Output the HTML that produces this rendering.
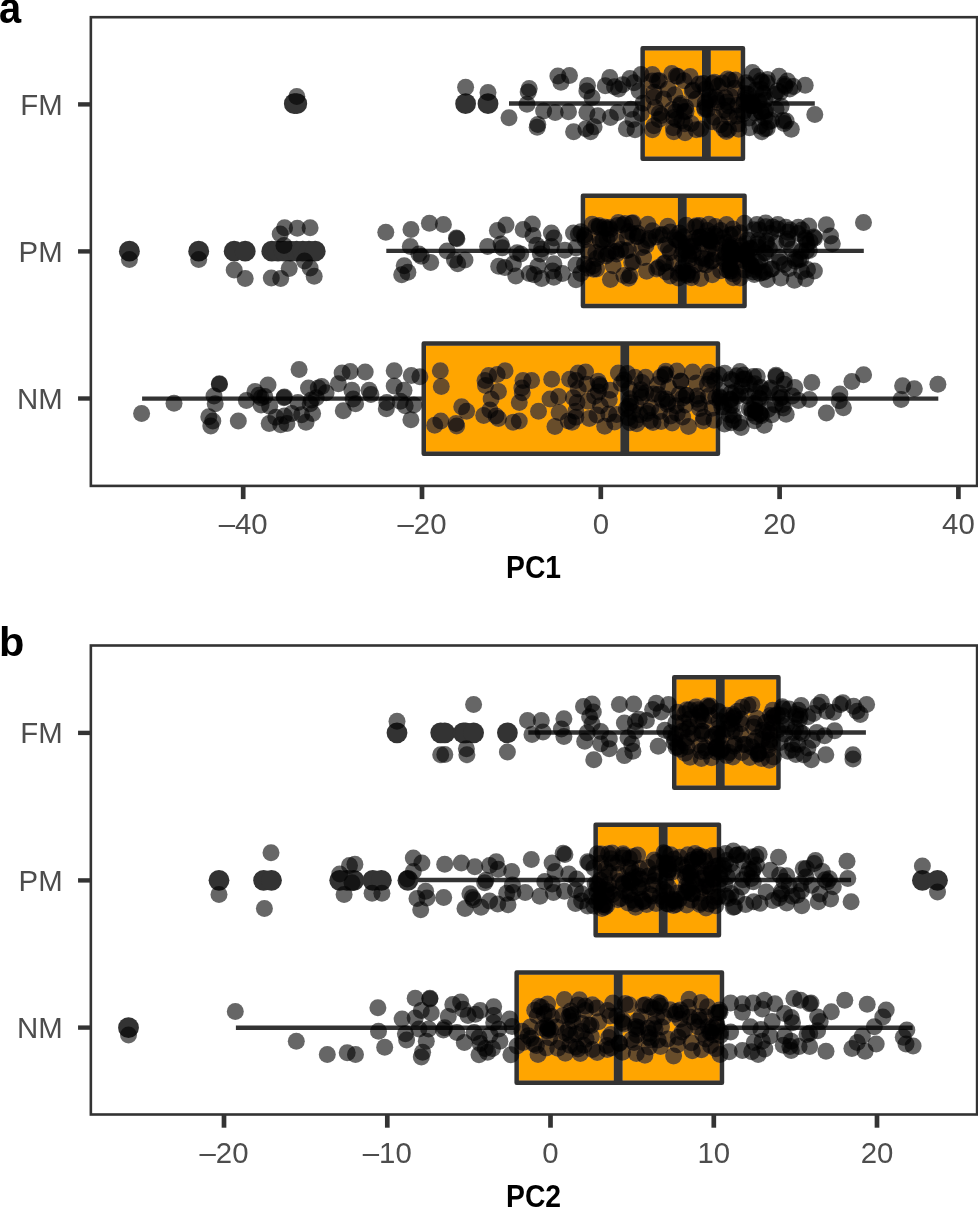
<!DOCTYPE html>
<html><head><meta charset="utf-8"><title>chart</title>
<style>html,body{margin:0;padding:0;background:#fff}svg{display:block;will-change:transform}</style></head>
<body>
<svg width="978" height="1207" viewBox="0 0 978 1207" font-family="Liberation Sans, sans-serif">
<rect width="978" height="1207" fill="#fff"/>
<defs><filter id="cm" x="0" y="0" width="100%" height="100%" filterUnits="objectBoundingBox" color-interpolation-filters="sRGB">
<feColorMatrix in="SourceGraphic" type="matrix" values="1 0 -1 0 0  1 0 -1 0 0  1 0 -1 0 0  0 0 0 0 1" result="s"/>
<feColorMatrix in="SourceGraphic" type="matrix" values="-1 0 0 0 1  -1 0 0 0 1  -1 0 0 0 1  0 0 0 0 1" result="d"/>
<feComposite in="s" in2="d" operator="arithmetic" k1="1" k2="0" k3="0" k4="0" result="sd"/>
<feColorMatrix in="sd" type="matrix" values="0.04 0 0 0 0  0 0.18 0 0 0  0 0 0.70 0 0  0 0 0 0 1" result="add"/>
<feComposite in="SourceGraphic" in2="add" operator="arithmetic" k1="0" k2="1" k3="1" k4="0"/>
</filter></defs>
<g filter="url(#cm)">
<rect x="90.85" y="17.2" width="886.25" height="468.7" fill="#fff"/>
<circle cx="294.3" cy="103.7" r="10.4" fill="#333333"/>
<circle cx="296.8" cy="103.7" r="10.4" fill="#333333"/>
<circle cx="465.6" cy="103.7" r="10.4" fill="#333333"/>
<circle cx="488.0" cy="103.7" r="10.4" fill="#333333"/>
<circle cx="129.4" cy="251.2" r="10.4" fill="#333333"/>
<circle cx="198.7" cy="251.2" r="10.4" fill="#333333"/>
<circle cx="234.2" cy="251.2" r="10.4" fill="#333333"/>
<circle cx="245.2" cy="251.2" r="10.4" fill="#333333"/>
<circle cx="271.8" cy="251.2" r="10.4" fill="#333333"/>
<circle cx="278.0" cy="251.2" r="10.4" fill="#333333"/>
<circle cx="284.2" cy="251.2" r="10.4" fill="#333333"/>
<circle cx="290.4" cy="251.2" r="10.4" fill="#333333"/>
<circle cx="296.6" cy="251.2" r="10.4" fill="#333333"/>
<circle cx="302.8" cy="251.2" r="10.4" fill="#333333"/>
<circle cx="309.0" cy="251.2" r="10.4" fill="#333333"/>
<circle cx="315.2" cy="251.2" r="10.4" fill="#333333"/>
<line x1="509.0" y1="103.5" x2="642.65" y2="103.5" stroke="#333333" stroke-width="4.4"/>
<line x1="742.95" y1="103.5" x2="814.8" y2="103.5" stroke="#333333" stroke-width="4.4"/>
<rect x="642.65" y="48.35" width="100.30000000000007" height="110.3" fill="#FFA500" stroke="#333333" stroke-width="4.5" stroke-linejoin="round"/>
<line x1="706.4" y1="48.35" x2="706.4" y2="158.65" stroke="#333333" stroke-width="8.8"/>
<line x1="386.3" y1="250.9" x2="582.95" y2="250.9" stroke="#333333" stroke-width="4.4"/>
<line x1="744.55" y1="250.9" x2="863.8" y2="250.9" stroke="#333333" stroke-width="4.4"/>
<rect x="582.95" y="195.75" width="161.5999999999999" height="110.3" fill="#FFA500" stroke="#333333" stroke-width="4.5" stroke-linejoin="round"/>
<line x1="682.3" y1="195.75" x2="682.3" y2="306.05" stroke="#333333" stroke-width="8.8"/>
<line x1="142.1" y1="398.6" x2="423.75" y2="398.6" stroke="#333333" stroke-width="4.4"/>
<line x1="717.95" y1="398.6" x2="938.3" y2="398.6" stroke="#333333" stroke-width="4.4"/>
<rect x="423.75" y="343.45000000000005" width="294.20000000000005" height="110.3" fill="#FFA500" stroke="#333333" stroke-width="4.5" stroke-linejoin="round"/>
<line x1="624.8" y1="343.45000000000005" x2="624.8" y2="453.75" stroke="#333333" stroke-width="8.8"/>
<g fill="#000" fill-opacity="0.6">
<circle cx="296.8" cy="96.5" r="8.5"/>
<circle cx="465.6" cy="87.3" r="8.5"/>
<circle cx="488.0" cy="92.4" r="8.5"/>
<circle cx="509.0" cy="117.7" r="8.5"/>
<circle cx="529.2" cy="88.4" r="8.5"/>
<circle cx="528.2" cy="91.9" r="8.5"/>
<circle cx="527.0" cy="104.2" r="8.5"/>
<circle cx="537.8" cy="124.6" r="8.5"/>
<circle cx="537.2" cy="127.3" r="8.5"/>
<circle cx="543.6" cy="110.9" r="8.5"/>
<circle cx="555.2" cy="112.4" r="8.5"/>
<circle cx="557.9" cy="76.0" r="8.5"/>
<circle cx="560.9" cy="82.3" r="8.5"/>
<circle cx="569.5" cy="75.6" r="8.5"/>
<circle cx="568.5" cy="111.8" r="8.5"/>
<circle cx="587.5" cy="85.4" r="8.5"/>
<circle cx="586.9" cy="90.9" r="8.5"/>
<circle cx="592.0" cy="97.4" r="8.5"/>
<circle cx="586.9" cy="112.4" r="8.5"/>
<circle cx="573.6" cy="131.8" r="8.5"/>
<circle cx="585.9" cy="128.7" r="8.5"/>
<circle cx="590.6" cy="131.8" r="8.5"/>
<circle cx="594.1" cy="126.7" r="8.5"/>
<circle cx="597.8" cy="115.8" r="8.5"/>
<circle cx="605.3" cy="85.8" r="8.5"/>
<circle cx="609.8" cy="77.6" r="8.5"/>
<circle cx="610.4" cy="117.5" r="8.5"/>
<circle cx="614.5" cy="86.8" r="8.5"/>
<circle cx="618.6" cy="88.9" r="8.5"/>
<circle cx="622.7" cy="84.8" r="8.5"/>
<circle cx="617.6" cy="112.4" r="8.5"/>
<circle cx="626.4" cy="128.7" r="8.5"/>
<circle cx="629.9" cy="78.6" r="8.5"/>
<circle cx="633.9" cy="82.7" r="8.5"/>
<circle cx="630.9" cy="109.3" r="8.5"/>
<circle cx="635.0" cy="129.8" r="8.5"/>
<circle cx="632.9" cy="119.5" r="8.5"/>
<circle cx="641.1" cy="74.5" r="8.5"/>
<circle cx="639.1" cy="90.9" r="8.5"/>
<circle cx="643.1" cy="103.2" r="8.5"/>
<circle cx="641.1" cy="113.4" r="8.5"/>
<circle cx="652.4" cy="74.5" r="8.5"/>
<circle cx="657.5" cy="80.7" r="8.5"/>
<circle cx="663.6" cy="99.1" r="8.5"/>
<circle cx="652.4" cy="129.8" r="8.5"/>
<circle cx="661.6" cy="115.4" r="8.5"/>
<circle cx="671.8" cy="73.5" r="8.5"/>
<circle cx="677.9" cy="76.6" r="8.5"/>
<circle cx="684.0" cy="80.7" r="8.5"/>
<circle cx="690.2" cy="76.6" r="8.5"/>
<circle cx="673.8" cy="131.8" r="8.5"/>
<circle cx="685.1" cy="132.8" r="8.5"/>
<circle cx="680.0" cy="105.2" r="8.5"/>
<circle cx="686.1" cy="111.3" r="8.5"/>
<circle cx="692.2" cy="90.9" r="8.5"/>
<circle cx="696.3" cy="99.1" r="8.5"/>
<circle cx="673.8" cy="117.5" r="8.5"/>
<circle cx="691.2" cy="123.6" r="8.5"/>
<circle cx="696.3" cy="129.8" r="8.5"/>
<circle cx="779.1" cy="76.2" r="8.5"/>
<circle cx="793.4" cy="86.4" r="8.5"/>
<circle cx="805.2" cy="85.2" r="8.5"/>
<circle cx="777.4" cy="90.9" r="8.5"/>
<circle cx="814.8" cy="114.4" r="8.5"/>
<circle cx="791.3" cy="129.3" r="8.5"/>
<circle cx="784.2" cy="123.6" r="8.5"/>
<circle cx="783.1" cy="120.6" r="8.5"/>
<circle cx="761.7" cy="131.8" r="8.5"/>
<circle cx="749.4" cy="127.7" r="8.5"/>
<circle cx="776.0" cy="109.3" r="8.5"/>
<circle cx="781.1" cy="106.2" r="8.5"/>
<circle cx="764.7" cy="117.5" r="8.5"/>
<circle cx="756.6" cy="76.6" r="8.5"/>
<circle cx="752.5" cy="72.5" r="8.5"/>
<circle cx="760.7" cy="80.7" r="8.5"/>
<circle cx="766.8" cy="82.7" r="8.5"/>
<circle cx="129.4" cy="259.4" r="8.5"/>
<circle cx="198.7" cy="259.4" r="8.5"/>
<circle cx="234.2" cy="269.9" r="8.5"/>
<circle cx="245.2" cy="278.6" r="8.5"/>
<circle cx="284.6" cy="227.7" r="8.5"/>
<circle cx="297.3" cy="228.2" r="8.5"/>
<circle cx="310.1" cy="227.7" r="8.5"/>
<circle cx="280.2" cy="234.1" r="8.5"/>
<circle cx="284.0" cy="245.6" r="8.5"/>
<circle cx="289.2" cy="268.4" r="8.5"/>
<circle cx="271.3" cy="278.1" r="8.5"/>
<circle cx="280.7" cy="278.6" r="8.5"/>
<circle cx="304.5" cy="261.0" r="8.5"/>
<circle cx="310.1" cy="267.9" r="8.5"/>
<circle cx="314.2" cy="276.3" r="8.5"/>
<circle cx="385.8" cy="232.3" r="8.5"/>
<circle cx="411.0" cy="229.4" r="8.5"/>
<circle cx="429.4" cy="223.2" r="8.5"/>
<circle cx="443.4" cy="224.4" r="8.5"/>
<circle cx="456.4" cy="237.9" r="8.5"/>
<circle cx="456.9" cy="238.7" r="8.5"/>
<circle cx="410.3" cy="246.5" r="8.5"/>
<circle cx="418.9" cy="253.9" r="8.5"/>
<circle cx="421.3" cy="256.3" r="8.5"/>
<circle cx="430.7" cy="262.5" r="8.5"/>
<circle cx="404.2" cy="265.7" r="8.5"/>
<circle cx="407.9" cy="272.3" r="8.5"/>
<circle cx="401.7" cy="274.8" r="8.5"/>
<circle cx="447.1" cy="251.0" r="8.5"/>
<circle cx="454.5" cy="260.0" r="8.5"/>
<circle cx="457.7" cy="263.7" r="8.5"/>
<circle cx="465.0" cy="260.0" r="8.5"/>
<circle cx="487.6" cy="246.5" r="8.5"/>
<circle cx="497.4" cy="230.6" r="8.5"/>
<circle cx="506.0" cy="224.9" r="8.5"/>
<circle cx="501.1" cy="244.1" r="8.5"/>
<circle cx="502.3" cy="247.8" r="8.5"/>
<circle cx="523.2" cy="229.4" r="8.5"/>
<circle cx="532.3" cy="224.0" r="8.5"/>
<circle cx="533.0" cy="235.5" r="8.5"/>
<circle cx="517.1" cy="252.7" r="8.5"/>
<circle cx="520.7" cy="253.9" r="8.5"/>
<circle cx="498.7" cy="266.2" r="8.5"/>
<circle cx="504.8" cy="267.4" r="8.5"/>
<circle cx="513.4" cy="263.7" r="8.5"/>
<circle cx="515.8" cy="276.0" r="8.5"/>
<circle cx="529.3" cy="273.5" r="8.5"/>
<circle cx="534.2" cy="274.8" r="8.5"/>
<circle cx="541.6" cy="278.4" r="8.5"/>
<circle cx="537.9" cy="266.2" r="8.5"/>
<circle cx="536.7" cy="245.3" r="8.5"/>
<circle cx="541.6" cy="249.0" r="8.5"/>
<circle cx="540.4" cy="253.9" r="8.5"/>
<circle cx="551.4" cy="233.0" r="8.5"/>
<circle cx="553.9" cy="237.9" r="8.5"/>
<circle cx="551.4" cy="246.5" r="8.5"/>
<circle cx="564.9" cy="250.2" r="8.5"/>
<circle cx="553.9" cy="263.7" r="8.5"/>
<circle cx="552.6" cy="271.1" r="8.5"/>
<circle cx="553.9" cy="277.2" r="8.5"/>
<circle cx="562.5" cy="273.5" r="8.5"/>
<circle cx="573.5" cy="233.0" r="8.5"/>
<circle cx="578.4" cy="234.3" r="8.5"/>
<circle cx="576.0" cy="247.8" r="8.5"/>
<circle cx="576.0" cy="264.9" r="8.5"/>
<circle cx="576.0" cy="279.7" r="8.5"/>
<circle cx="580.9" cy="231.8" r="8.5"/>
<circle cx="580.9" cy="273.5" r="8.5"/>
<circle cx="863.5" cy="222.5" r="8.5"/>
<circle cx="826.3" cy="224.7" r="8.5"/>
<circle cx="830.5" cy="236.1" r="8.5"/>
<circle cx="832.3" cy="243.7" r="8.5"/>
<circle cx="801.8" cy="230.1" r="8.5"/>
<circle cx="810.1" cy="241.6" r="8.5"/>
<circle cx="798.7" cy="259.4" r="8.5"/>
<circle cx="801.6" cy="271.6" r="8.5"/>
<circle cx="805.8" cy="278.8" r="8.5"/>
<circle cx="794.4" cy="280.2" r="8.5"/>
<circle cx="780.8" cy="278.1" r="8.5"/>
<circle cx="767.2" cy="279.5" r="8.5"/>
<circle cx="765.8" cy="222.9" r="8.5"/>
<circle cx="777.9" cy="224.4" r="8.5"/>
<circle cx="790.1" cy="230.1" r="8.5"/>
<circle cx="754.3" cy="274.5" r="8.5"/>
<circle cx="141.6" cy="413.6" r="8.5"/>
<circle cx="174.0" cy="403.3" r="8.5"/>
<circle cx="219.4" cy="383.7" r="8.5"/>
<circle cx="219.4" cy="384.2" r="8.5"/>
<circle cx="214.0" cy="396.0" r="8.5"/>
<circle cx="215.2" cy="403.8" r="8.5"/>
<circle cx="208.8" cy="416.8" r="8.5"/>
<circle cx="212.8" cy="421.0" r="8.5"/>
<circle cx="210.8" cy="425.9" r="8.5"/>
<circle cx="238.3" cy="421.0" r="8.5"/>
<circle cx="246.4" cy="400.6" r="8.5"/>
<circle cx="255.0" cy="391.5" r="8.5"/>
<circle cx="258.7" cy="395.2" r="8.5"/>
<circle cx="261.1" cy="397.7" r="8.5"/>
<circle cx="268.0" cy="384.9" r="8.5"/>
<circle cx="264.8" cy="396.4" r="8.5"/>
<circle cx="261.1" cy="405.0" r="8.5"/>
<circle cx="269.7" cy="406.3" r="8.5"/>
<circle cx="284.4" cy="396.9" r="8.5"/>
<circle cx="283.9" cy="397.7" r="8.5"/>
<circle cx="269.2" cy="423.4" r="8.5"/>
<circle cx="275.8" cy="417.3" r="8.5"/>
<circle cx="280.7" cy="424.7" r="8.5"/>
<circle cx="286.9" cy="423.4" r="8.5"/>
<circle cx="284.4" cy="416.1" r="8.5"/>
<circle cx="291.8" cy="413.6" r="8.5"/>
<circle cx="299.1" cy="369.4" r="8.5"/>
<circle cx="297.9" cy="402.6" r="8.5"/>
<circle cx="301.6" cy="414.8" r="8.5"/>
<circle cx="306.0" cy="422.2" r="8.5"/>
<circle cx="308.5" cy="387.9" r="8.5"/>
<circle cx="311.4" cy="400.1" r="8.5"/>
<circle cx="310.2" cy="403.8" r="8.5"/>
<circle cx="312.6" cy="413.6" r="8.5"/>
<circle cx="316.3" cy="397.7" r="8.5"/>
<circle cx="318.3" cy="387.9" r="8.5"/>
<circle cx="321.7" cy="386.6" r="8.5"/>
<circle cx="326.1" cy="392.8" r="8.5"/>
<circle cx="338.4" cy="383.7" r="8.5"/>
<circle cx="342.1" cy="373.1" r="8.5"/>
<circle cx="350.2" cy="371.4" r="8.5"/>
<circle cx="343.3" cy="410.7" r="8.5"/>
<circle cx="351.9" cy="390.3" r="8.5"/>
<circle cx="353.1" cy="398.9" r="8.5"/>
<circle cx="355.6" cy="403.8" r="8.5"/>
<circle cx="365.2" cy="371.9" r="8.5"/>
<circle cx="369.1" cy="390.3" r="8.5"/>
<circle cx="370.9" cy="394.5" r="8.5"/>
<circle cx="394.2" cy="370.7" r="8.5"/>
<circle cx="394.2" cy="386.1" r="8.5"/>
<circle cx="404.0" cy="390.3" r="8.5"/>
<circle cx="411.3" cy="375.6" r="8.5"/>
<circle cx="419.9" cy="376.8" r="8.5"/>
<circle cx="386.8" cy="402.6" r="8.5"/>
<circle cx="386.3" cy="408.7" r="8.5"/>
<circle cx="400.3" cy="401.3" r="8.5"/>
<circle cx="405.2" cy="405.8" r="8.5"/>
<circle cx="413.8" cy="405.0" r="8.5"/>
<circle cx="410.9" cy="419.8" r="8.5"/>
<circle cx="440.3" cy="370.7" r="8.5"/>
<circle cx="441.3" cy="386.6" r="8.5"/>
<circle cx="434.7" cy="425.2" r="8.5"/>
<circle cx="440.8" cy="421.0" r="8.5"/>
<circle cx="461.7" cy="406.7" r="8.5"/>
<circle cx="466.6" cy="411.2" r="8.5"/>
<circle cx="456.0" cy="423.4" r="8.5"/>
<circle cx="456.7" cy="425.9" r="8.5"/>
<circle cx="488.7" cy="375.6" r="8.5"/>
<circle cx="497.2" cy="374.4" r="8.5"/>
<circle cx="505.1" cy="370.7" r="8.5"/>
<circle cx="485.0" cy="380.5" r="8.5"/>
<circle cx="485.5" cy="385.4" r="8.5"/>
<circle cx="498.5" cy="391.5" r="8.5"/>
<circle cx="491.1" cy="398.9" r="8.5"/>
<circle cx="489.9" cy="409.9" r="8.5"/>
<circle cx="483.7" cy="415.6" r="8.5"/>
<circle cx="496.0" cy="416.1" r="8.5"/>
<circle cx="498.5" cy="418.5" r="8.5"/>
<circle cx="513.2" cy="422.2" r="8.5"/>
<circle cx="519.3" cy="421.0" r="8.5"/>
<circle cx="523.0" cy="380.5" r="8.5"/>
<circle cx="531.6" cy="380.5" r="8.5"/>
<circle cx="521.8" cy="387.9" r="8.5"/>
<circle cx="522.3" cy="392.8" r="8.5"/>
<circle cx="519.3" cy="402.6" r="8.5"/>
<circle cx="538.5" cy="411.2" r="8.5"/>
<circle cx="551.7" cy="379.3" r="8.5"/>
<circle cx="550.0" cy="398.9" r="8.5"/>
<circle cx="558.6" cy="396.4" r="8.5"/>
<circle cx="559.1" cy="412.4" r="8.5"/>
<circle cx="554.9" cy="426.4" r="8.5"/>
<circle cx="569.6" cy="379.3" r="8.5"/>
<circle cx="578.2" cy="373.1" r="8.5"/>
<circle cx="575.8" cy="380.5" r="8.5"/>
<circle cx="573.3" cy="397.7" r="8.5"/>
<circle cx="578.2" cy="389.1" r="8.5"/>
<circle cx="577.0" cy="402.6" r="8.5"/>
<circle cx="575.8" cy="411.2" r="8.5"/>
<circle cx="568.4" cy="421.0" r="8.5"/>
<circle cx="572.1" cy="422.2" r="8.5"/>
<circle cx="575.8" cy="417.3" r="8.5"/>
<circle cx="585.6" cy="371.9" r="8.5"/>
<circle cx="586.8" cy="384.2" r="8.5"/>
<circle cx="588.0" cy="401.3" r="8.5"/>
<circle cx="589.3" cy="418.5" r="8.5"/>
<circle cx="776.0" cy="375.3" r="8.5"/>
<circle cx="776.0" cy="376.5" r="8.5"/>
<circle cx="753.4" cy="376.5" r="8.5"/>
<circle cx="760.7" cy="387.5" r="8.5"/>
<circle cx="764.3" cy="425.2" r="8.5"/>
<circle cx="768.0" cy="409.4" r="8.5"/>
<circle cx="780.2" cy="398.4" r="8.5"/>
<circle cx="786.2" cy="414.2" r="8.5"/>
<circle cx="794.8" cy="387.5" r="8.5"/>
<circle cx="792.3" cy="396.0" r="8.5"/>
<circle cx="798.4" cy="400.4" r="8.5"/>
<circle cx="811.8" cy="382.6" r="8.5"/>
<circle cx="809.4" cy="399.6" r="8.5"/>
<circle cx="826.4" cy="413.0" r="8.5"/>
<circle cx="839.8" cy="394.0" r="8.5"/>
<circle cx="839.3" cy="400.8" r="8.5"/>
<circle cx="843.4" cy="407.7" r="8.5"/>
<circle cx="851.9" cy="381.4" r="8.5"/>
<circle cx="863.6" cy="374.8" r="8.5"/>
<circle cx="902.6" cy="385.8" r="8.5"/>
<circle cx="901.1" cy="399.6" r="8.5"/>
<circle cx="914.3" cy="388.7" r="8.5"/>
<circle cx="937.9" cy="384.3" r="8.5"/>
<circle cx="740.0" cy="371.6" r="8.5"/>
<circle cx="744.9" cy="378.9" r="8.5"/>
<circle cx="754.6" cy="383.8" r="8.5"/>
<circle cx="747.3" cy="396.0" r="8.5"/>
<circle cx="754.6" cy="403.3" r="8.5"/>
<circle cx="752.2" cy="413.0" r="8.5"/>
<circle cx="741.2" cy="427.6" r="8.5"/>
<circle cx="763.1" cy="393.5" r="8.5"/>
<circle cx="681.8" cy="120.9" r="8.5"/>
<circle cx="684.8" cy="123.8" r="8.5"/>
<circle cx="654.0" cy="125.7" r="8.5"/>
<circle cx="684.3" cy="111.7" r="8.5"/>
<circle cx="699.1" cy="84.1" r="8.5"/>
<circle cx="676.4" cy="76.0" r="8.5"/>
<circle cx="693.1" cy="90.1" r="8.5"/>
<circle cx="653.7" cy="97.3" r="8.5"/>
<circle cx="652.2" cy="81.1" r="8.5"/>
<circle cx="675.7" cy="111.7" r="8.5"/>
<circle cx="659.3" cy="113.3" r="8.5"/>
<circle cx="655.2" cy="107.7" r="8.5"/>
<circle cx="659.4" cy="80.7" r="8.5"/>
<circle cx="685.6" cy="107.3" r="8.5"/>
<circle cx="681.0" cy="103.4" r="8.5"/>
<circle cx="676.6" cy="119.4" r="8.5"/>
<circle cx="673.3" cy="127.7" r="8.5"/>
<circle cx="668.1" cy="89.3" r="8.5"/>
<circle cx="659.0" cy="119.6" r="8.5"/>
<circle cx="654.1" cy="92.2" r="8.5"/>
<circle cx="674.8" cy="94.7" r="8.5"/>
<circle cx="672.4" cy="109.8" r="8.5"/>
<circle cx="712.0" cy="121.8" r="8.5"/>
<circle cx="714.3" cy="117.2" r="8.5"/>
<circle cx="700.7" cy="129.0" r="8.5"/>
<circle cx="737.2" cy="115.9" r="8.5"/>
<circle cx="730.2" cy="80.2" r="8.5"/>
<circle cx="730.6" cy="96.6" r="8.5"/>
<circle cx="726.4" cy="131.4" r="8.5"/>
<circle cx="737.7" cy="104.9" r="8.5"/>
<circle cx="705.6" cy="89.0" r="8.5"/>
<circle cx="703.2" cy="83.5" r="8.5"/>
<circle cx="715.7" cy="97.0" r="8.5"/>
<circle cx="716.8" cy="99.8" r="8.5"/>
<circle cx="738.3" cy="123.9" r="8.5"/>
<circle cx="735.3" cy="80.0" r="8.5"/>
<circle cx="728.7" cy="106.0" r="8.5"/>
<circle cx="722.3" cy="82.9" r="8.5"/>
<circle cx="726.8" cy="111.9" r="8.5"/>
<circle cx="734.7" cy="88.2" r="8.5"/>
<circle cx="707.4" cy="109.4" r="8.5"/>
<circle cx="709.3" cy="100.0" r="8.5"/>
<circle cx="712.7" cy="83.4" r="8.5"/>
<circle cx="724.1" cy="109.9" r="8.5"/>
<circle cx="714.3" cy="82.3" r="8.5"/>
<circle cx="738.7" cy="129.3" r="8.5"/>
<circle cx="729.5" cy="117.3" r="8.5"/>
<circle cx="720.5" cy="124.7" r="8.5"/>
<circle cx="742.8" cy="113.9" r="8.5"/>
<circle cx="725.2" cy="97.8" r="8.5"/>
<circle cx="717.7" cy="102.5" r="8.5"/>
<circle cx="718.0" cy="86.0" r="8.5"/>
<circle cx="744.3" cy="100.2" r="8.5"/>
<circle cx="704.9" cy="109.3" r="8.5"/>
<circle cx="704.6" cy="107.4" r="8.5"/>
<circle cx="724.1" cy="129.2" r="8.5"/>
<circle cx="727.6" cy="79.1" r="8.5"/>
<circle cx="709.4" cy="96.5" r="8.5"/>
<circle cx="728.5" cy="129.6" r="8.5"/>
<circle cx="727.1" cy="102.1" r="8.5"/>
<circle cx="705.2" cy="102.9" r="8.5"/>
<circle cx="744.0" cy="102.5" r="8.5"/>
<circle cx="761.4" cy="112.2" r="8.5"/>
<circle cx="746.0" cy="82.8" r="8.5"/>
<circle cx="759.0" cy="101.4" r="8.5"/>
<circle cx="762.2" cy="82.4" r="8.5"/>
<circle cx="743.8" cy="111.2" r="8.5"/>
<circle cx="764.0" cy="93.8" r="8.5"/>
<circle cx="754.3" cy="105.6" r="8.5"/>
<circle cx="755.8" cy="90.1" r="8.5"/>
<circle cx="765.0" cy="100.1" r="8.5"/>
<circle cx="749.6" cy="101.4" r="8.5"/>
<circle cx="747.9" cy="85.2" r="8.5"/>
<circle cx="753.0" cy="105.5" r="8.5"/>
<circle cx="748.0" cy="94.3" r="8.5"/>
<circle cx="761.3" cy="112.2" r="8.5"/>
<circle cx="762.8" cy="93.6" r="8.5"/>
<circle cx="747.8" cy="98.4" r="8.5"/>
<circle cx="751.6" cy="105.7" r="8.5"/>
<circle cx="761.1" cy="89.2" r="8.5"/>
<circle cx="767.4" cy="79.5" r="8.5"/>
<circle cx="745.6" cy="93.5" r="8.5"/>
<circle cx="765.7" cy="110.7" r="8.5"/>
<circle cx="751.7" cy="102.8" r="8.5"/>
<circle cx="767.2" cy="128.3" r="8.5"/>
<circle cx="759.9" cy="126.1" r="8.5"/>
<circle cx="749.0" cy="118.1" r="8.5"/>
<circle cx="764.7" cy="110.9" r="8.5"/>
<circle cx="765.0" cy="128.8" r="8.5"/>
<circle cx="754.9" cy="112.8" r="8.5"/>
<circle cx="768.7" cy="121.9" r="8.5"/>
<circle cx="749.3" cy="105.2" r="8.5"/>
<circle cx="786.1" cy="121.1" r="8.5"/>
<circle cx="774.7" cy="94.6" r="8.5"/>
<circle cx="771.6" cy="120.4" r="8.5"/>
<circle cx="780.2" cy="92.4" r="8.5"/>
<circle cx="784.5" cy="84.5" r="8.5"/>
<circle cx="785.0" cy="86.3" r="8.5"/>
<circle cx="789.7" cy="89.0" r="8.5"/>
<circle cx="787.5" cy="80.9" r="8.5"/>
<circle cx="608.0" cy="254.1" r="8.5"/>
<circle cx="588.6" cy="251.7" r="8.5"/>
<circle cx="679.4" cy="232.9" r="8.5"/>
<circle cx="609.9" cy="229.5" r="8.5"/>
<circle cx="676.6" cy="239.7" r="8.5"/>
<circle cx="678.6" cy="273.3" r="8.5"/>
<circle cx="599.9" cy="239.3" r="8.5"/>
<circle cx="670.4" cy="276.1" r="8.5"/>
<circle cx="658.6" cy="267.4" r="8.5"/>
<circle cx="673.9" cy="263.1" r="8.5"/>
<circle cx="670.4" cy="232.1" r="8.5"/>
<circle cx="584.5" cy="235.3" r="8.5"/>
<circle cx="609.9" cy="234.7" r="8.5"/>
<circle cx="596.6" cy="268.9" r="8.5"/>
<circle cx="601.4" cy="254.2" r="8.5"/>
<circle cx="647.9" cy="224.3" r="8.5"/>
<circle cx="623.9" cy="275.6" r="8.5"/>
<circle cx="628.6" cy="278.2" r="8.5"/>
<circle cx="637.6" cy="236.4" r="8.5"/>
<circle cx="604.5" cy="227.0" r="8.5"/>
<circle cx="610.4" cy="279.4" r="8.5"/>
<circle cx="592.2" cy="224.3" r="8.5"/>
<circle cx="631.7" cy="262.6" r="8.5"/>
<circle cx="641.7" cy="247.5" r="8.5"/>
<circle cx="652.5" cy="230.7" r="8.5"/>
<circle cx="616.2" cy="251.6" r="8.5"/>
<circle cx="587.8" cy="268.3" r="8.5"/>
<circle cx="663.6" cy="263.8" r="8.5"/>
<circle cx="643.6" cy="257.4" r="8.5"/>
<circle cx="681.8" cy="254.3" r="8.5"/>
<circle cx="659.7" cy="235.1" r="8.5"/>
<circle cx="662.9" cy="234.4" r="8.5"/>
<circle cx="646.6" cy="271.2" r="8.5"/>
<circle cx="628.4" cy="250.1" r="8.5"/>
<circle cx="593.0" cy="266.0" r="8.5"/>
<circle cx="596.8" cy="258.4" r="8.5"/>
<circle cx="648.1" cy="240.4" r="8.5"/>
<circle cx="656.7" cy="269.1" r="8.5"/>
<circle cx="616.6" cy="241.7" r="8.5"/>
<circle cx="631.7" cy="223.3" r="8.5"/>
<circle cx="670.3" cy="252.5" r="8.5"/>
<circle cx="624.8" cy="223.5" r="8.5"/>
<circle cx="667.8" cy="226.3" r="8.5"/>
<circle cx="668.4" cy="248.4" r="8.5"/>
<circle cx="616.6" cy="254.0" r="8.5"/>
<circle cx="674.7" cy="237.8" r="8.5"/>
<circle cx="595.8" cy="252.5" r="8.5"/>
<circle cx="606.6" cy="228.7" r="8.5"/>
<circle cx="599.0" cy="225.4" r="8.5"/>
<circle cx="603.0" cy="240.3" r="8.5"/>
<circle cx="613.2" cy="265.8" r="8.5"/>
<circle cx="611.7" cy="251.0" r="8.5"/>
<circle cx="600.6" cy="242.3" r="8.5"/>
<circle cx="584.8" cy="236.8" r="8.5"/>
<circle cx="584.5" cy="264.3" r="8.5"/>
<circle cx="637.6" cy="233.3" r="8.5"/>
<circle cx="630.0" cy="275.8" r="8.5"/>
<circle cx="593.5" cy="269.2" r="8.5"/>
<circle cx="625.8" cy="250.7" r="8.5"/>
<circle cx="665.6" cy="244.9" r="8.5"/>
<circle cx="633.2" cy="261.7" r="8.5"/>
<circle cx="680.3" cy="242.0" r="8.5"/>
<circle cx="665.4" cy="262.8" r="8.5"/>
<circle cx="646.0" cy="245.6" r="8.5"/>
<circle cx="617.4" cy="225.6" r="8.5"/>
<circle cx="595.9" cy="226.5" r="8.5"/>
<circle cx="656.3" cy="237.1" r="8.5"/>
<circle cx="599.2" cy="227.3" r="8.5"/>
<circle cx="666.3" cy="272.1" r="8.5"/>
<circle cx="649.4" cy="238.6" r="8.5"/>
<circle cx="607.0" cy="239.2" r="8.5"/>
<circle cx="628.5" cy="231.5" r="8.5"/>
<circle cx="627.1" cy="237.5" r="8.5"/>
<circle cx="678.2" cy="277.9" r="8.5"/>
<circle cx="637.2" cy="236.4" r="8.5"/>
<circle cx="678.6" cy="240.1" r="8.5"/>
<circle cx="618.3" cy="222.6" r="8.5"/>
<circle cx="620.8" cy="249.6" r="8.5"/>
<circle cx="632.8" cy="234.0" r="8.5"/>
<circle cx="633.0" cy="222.8" r="8.5"/>
<circle cx="609.2" cy="227.6" r="8.5"/>
<circle cx="622.6" cy="224.9" r="8.5"/>
<circle cx="585.2" cy="239.8" r="8.5"/>
<circle cx="606.0" cy="255.9" r="8.5"/>
<circle cx="740.1" cy="232.7" r="8.5"/>
<circle cx="708.4" cy="250.0" r="8.5"/>
<circle cx="691.8" cy="275.0" r="8.5"/>
<circle cx="688.7" cy="255.5" r="8.5"/>
<circle cx="707.3" cy="230.5" r="8.5"/>
<circle cx="702.1" cy="258.2" r="8.5"/>
<circle cx="702.1" cy="238.2" r="8.5"/>
<circle cx="740.1" cy="278.0" r="8.5"/>
<circle cx="700.7" cy="278.6" r="8.5"/>
<circle cx="693.6" cy="241.9" r="8.5"/>
<circle cx="714.7" cy="233.9" r="8.5"/>
<circle cx="696.4" cy="225.7" r="8.5"/>
<circle cx="732.9" cy="229.1" r="8.5"/>
<circle cx="687.6" cy="271.3" r="8.5"/>
<circle cx="695.3" cy="265.1" r="8.5"/>
<circle cx="726.8" cy="242.4" r="8.5"/>
<circle cx="684.0" cy="236.7" r="8.5"/>
<circle cx="715.4" cy="253.7" r="8.5"/>
<circle cx="731.2" cy="248.8" r="8.5"/>
<circle cx="699.9" cy="237.2" r="8.5"/>
<circle cx="720.8" cy="270.8" r="8.5"/>
<circle cx="686.3" cy="225.3" r="8.5"/>
<circle cx="727.7" cy="265.3" r="8.5"/>
<circle cx="727.0" cy="269.9" r="8.5"/>
<circle cx="739.5" cy="259.7" r="8.5"/>
<circle cx="744.4" cy="223.2" r="8.5"/>
<circle cx="682.8" cy="267.6" r="8.5"/>
<circle cx="702.4" cy="263.9" r="8.5"/>
<circle cx="723.4" cy="238.0" r="8.5"/>
<circle cx="711.5" cy="261.6" r="8.5"/>
<circle cx="712.3" cy="274.7" r="8.5"/>
<circle cx="725.9" cy="254.7" r="8.5"/>
<circle cx="683.4" cy="250.5" r="8.5"/>
<circle cx="733.1" cy="273.9" r="8.5"/>
<circle cx="715.5" cy="226.5" r="8.5"/>
<circle cx="739.4" cy="261.6" r="8.5"/>
<circle cx="730.0" cy="235.1" r="8.5"/>
<circle cx="712.0" cy="245.3" r="8.5"/>
<circle cx="726.5" cy="224.4" r="8.5"/>
<circle cx="736.1" cy="248.5" r="8.5"/>
<circle cx="693.3" cy="251.6" r="8.5"/>
<circle cx="730.5" cy="259.3" r="8.5"/>
<circle cx="686.8" cy="275.2" r="8.5"/>
<circle cx="729.6" cy="271.2" r="8.5"/>
<circle cx="699.7" cy="225.4" r="8.5"/>
<circle cx="723.7" cy="258.7" r="8.5"/>
<circle cx="691.4" cy="277.8" r="8.5"/>
<circle cx="709.5" cy="240.5" r="8.5"/>
<circle cx="730.7" cy="267.3" r="8.5"/>
<circle cx="708.9" cy="224.2" r="8.5"/>
<circle cx="730.0" cy="245.3" r="8.5"/>
<circle cx="737.2" cy="254.1" r="8.5"/>
<circle cx="694.8" cy="227.1" r="8.5"/>
<circle cx="740.8" cy="245.9" r="8.5"/>
<circle cx="720.7" cy="230.4" r="8.5"/>
<circle cx="736.8" cy="250.2" r="8.5"/>
<circle cx="739.5" cy="253.9" r="8.5"/>
<circle cx="692.8" cy="246.1" r="8.5"/>
<circle cx="699.8" cy="237.1" r="8.5"/>
<circle cx="728.5" cy="259.7" r="8.5"/>
<circle cx="707.6" cy="236.1" r="8.5"/>
<circle cx="712.4" cy="260.6" r="8.5"/>
<circle cx="689.5" cy="259.2" r="8.5"/>
<circle cx="686.7" cy="251.0" r="8.5"/>
<circle cx="733.1" cy="253.9" r="8.5"/>
<circle cx="710.5" cy="241.5" r="8.5"/>
<circle cx="729.8" cy="246.9" r="8.5"/>
<circle cx="716.5" cy="236.4" r="8.5"/>
<circle cx="693.0" cy="254.2" r="8.5"/>
<circle cx="702.1" cy="243.5" r="8.5"/>
<circle cx="733.0" cy="234.0" r="8.5"/>
<circle cx="683.3" cy="272.1" r="8.5"/>
<circle cx="706.1" cy="265.0" r="8.5"/>
<circle cx="695.2" cy="237.9" r="8.5"/>
<circle cx="729.4" cy="250.9" r="8.5"/>
<circle cx="718.2" cy="243.0" r="8.5"/>
<circle cx="725.3" cy="252.7" r="8.5"/>
<circle cx="731.8" cy="270.9" r="8.5"/>
<circle cx="687.8" cy="273.6" r="8.5"/>
<circle cx="706.2" cy="259.3" r="8.5"/>
<circle cx="709.2" cy="240.3" r="8.5"/>
<circle cx="733.3" cy="277.7" r="8.5"/>
<circle cx="690.0" cy="246.7" r="8.5"/>
<circle cx="730.1" cy="268.3" r="8.5"/>
<circle cx="755.9" cy="267.0" r="8.5"/>
<circle cx="745.0" cy="270.1" r="8.5"/>
<circle cx="770.7" cy="269.3" r="8.5"/>
<circle cx="772.2" cy="268.7" r="8.5"/>
<circle cx="751.3" cy="264.8" r="8.5"/>
<circle cx="769.4" cy="248.9" r="8.5"/>
<circle cx="766.0" cy="226.7" r="8.5"/>
<circle cx="764.4" cy="252.7" r="8.5"/>
<circle cx="747.6" cy="240.1" r="8.5"/>
<circle cx="745.0" cy="255.8" r="8.5"/>
<circle cx="765.0" cy="271.5" r="8.5"/>
<circle cx="758.2" cy="240.6" r="8.5"/>
<circle cx="757.4" cy="246.7" r="8.5"/>
<circle cx="770.5" cy="233.3" r="8.5"/>
<circle cx="759.1" cy="229.8" r="8.5"/>
<circle cx="745.6" cy="243.7" r="8.5"/>
<circle cx="753.8" cy="229.8" r="8.5"/>
<circle cx="765.8" cy="253.1" r="8.5"/>
<circle cx="757.7" cy="244.0" r="8.5"/>
<circle cx="759.8" cy="261.6" r="8.5"/>
<circle cx="766.5" cy="243.6" r="8.5"/>
<circle cx="756.9" cy="224.4" r="8.5"/>
<circle cx="753.8" cy="269.6" r="8.5"/>
<circle cx="747.0" cy="250.8" r="8.5"/>
<circle cx="751.0" cy="265.4" r="8.5"/>
<circle cx="750.8" cy="249.1" r="8.5"/>
<circle cx="753.0" cy="272.0" r="8.5"/>
<circle cx="748.3" cy="257.7" r="8.5"/>
<circle cx="763.3" cy="272.4" r="8.5"/>
<circle cx="759.6" cy="273.2" r="8.5"/>
<circle cx="746.7" cy="256.1" r="8.5"/>
<circle cx="772.7" cy="226.9" r="8.5"/>
<circle cx="745.7" cy="256.2" r="8.5"/>
<circle cx="757.5" cy="262.3" r="8.5"/>
<circle cx="750.5" cy="248.3" r="8.5"/>
<circle cx="766.4" cy="241.0" r="8.5"/>
<circle cx="787.9" cy="232.3" r="8.5"/>
<circle cx="779.7" cy="262.1" r="8.5"/>
<circle cx="791.6" cy="248.9" r="8.5"/>
<circle cx="787.5" cy="239.1" r="8.5"/>
<circle cx="779.4" cy="257.5" r="8.5"/>
<circle cx="789.0" cy="268.6" r="8.5"/>
<circle cx="777.6" cy="228.9" r="8.5"/>
<circle cx="795.5" cy="261.2" r="8.5"/>
<circle cx="785.8" cy="227.2" r="8.5"/>
<circle cx="786.8" cy="241.4" r="8.5"/>
<circle cx="798.0" cy="233.5" r="8.5"/>
<circle cx="784.1" cy="264.5" r="8.5"/>
<circle cx="775.8" cy="243.1" r="8.5"/>
<circle cx="795.3" cy="258.7" r="8.5"/>
<circle cx="801.4" cy="251.4" r="8.5"/>
<circle cx="808.7" cy="226.1" r="8.5"/>
<circle cx="798.3" cy="227.3" r="8.5"/>
<circle cx="805.3" cy="238.1" r="8.5"/>
<circle cx="800.7" cy="259.3" r="8.5"/>
<circle cx="807.5" cy="269.4" r="8.5"/>
<circle cx="814.4" cy="238.3" r="8.5"/>
<circle cx="807.1" cy="244.0" r="8.5"/>
<circle cx="809.3" cy="250.6" r="8.5"/>
<circle cx="814.4" cy="271.0" r="8.5"/>
<circle cx="805.8" cy="240.0" r="8.5"/>
<circle cx="806.4" cy="250.7" r="8.5"/>
<circle cx="813.9" cy="237.0" r="8.5"/>
<circle cx="598.1" cy="381.2" r="8.5"/>
<circle cx="600.4" cy="405.8" r="8.5"/>
<circle cx="596.9" cy="415.0" r="8.5"/>
<circle cx="614.6" cy="422.0" r="8.5"/>
<circle cx="598.4" cy="392.0" r="8.5"/>
<circle cx="610.3" cy="390.3" r="8.5"/>
<circle cx="609.3" cy="399.5" r="8.5"/>
<circle cx="618.4" cy="373.0" r="8.5"/>
<circle cx="604.7" cy="426.3" r="8.5"/>
<circle cx="624.0" cy="379.9" r="8.5"/>
<circle cx="594.7" cy="396.3" r="8.5"/>
<circle cx="621.2" cy="383.4" r="8.5"/>
<circle cx="608.8" cy="414.1" r="8.5"/>
<circle cx="616.6" cy="414.4" r="8.5"/>
<circle cx="600.3" cy="385.9" r="8.5"/>
<circle cx="599.4" cy="384.5" r="8.5"/>
<circle cx="680.7" cy="381.1" r="8.5"/>
<circle cx="699.2" cy="403.4" r="8.5"/>
<circle cx="709.7" cy="379.9" r="8.5"/>
<circle cx="657.5" cy="384.4" r="8.5"/>
<circle cx="688.5" cy="426.4" r="8.5"/>
<circle cx="653.0" cy="422.4" r="8.5"/>
<circle cx="686.4" cy="395.3" r="8.5"/>
<circle cx="696.3" cy="383.0" r="8.5"/>
<circle cx="707.4" cy="384.3" r="8.5"/>
<circle cx="659.5" cy="411.6" r="8.5"/>
<circle cx="680.8" cy="381.5" r="8.5"/>
<circle cx="629.3" cy="389.1" r="8.5"/>
<circle cx="627.5" cy="373.6" r="8.5"/>
<circle cx="667.6" cy="401.9" r="8.5"/>
<circle cx="685.4" cy="404.9" r="8.5"/>
<circle cx="626.3" cy="408.7" r="8.5"/>
<circle cx="672.2" cy="422.9" r="8.5"/>
<circle cx="692.6" cy="371.9" r="8.5"/>
<circle cx="714.0" cy="420.3" r="8.5"/>
<circle cx="708.5" cy="396.3" r="8.5"/>
<circle cx="650.9" cy="407.8" r="8.5"/>
<circle cx="712.2" cy="408.3" r="8.5"/>
<circle cx="630.5" cy="402.7" r="8.5"/>
<circle cx="664.8" cy="374.1" r="8.5"/>
<circle cx="640.9" cy="389.7" r="8.5"/>
<circle cx="667.6" cy="404.3" r="8.5"/>
<circle cx="650.3" cy="420.4" r="8.5"/>
<circle cx="635.9" cy="420.2" r="8.5"/>
<circle cx="703.2" cy="420.9" r="8.5"/>
<circle cx="640.4" cy="393.0" r="8.5"/>
<circle cx="645.6" cy="377.3" r="8.5"/>
<circle cx="676.9" cy="371.0" r="8.5"/>
<circle cx="699.7" cy="408.4" r="8.5"/>
<circle cx="658.3" cy="394.5" r="8.5"/>
<circle cx="668.6" cy="387.3" r="8.5"/>
<circle cx="711.1" cy="376.2" r="8.5"/>
<circle cx="670.6" cy="415.9" r="8.5"/>
<circle cx="714.9" cy="381.2" r="8.5"/>
<circle cx="636.8" cy="423.8" r="8.5"/>
<circle cx="715.7" cy="397.5" r="8.5"/>
<circle cx="630.0" cy="422.8" r="8.5"/>
<circle cx="661.1" cy="421.5" r="8.5"/>
<circle cx="682.7" cy="417.0" r="8.5"/>
<circle cx="639.9" cy="414.8" r="8.5"/>
<circle cx="645.7" cy="393.1" r="8.5"/>
<circle cx="703.7" cy="417.3" r="8.5"/>
<circle cx="642.0" cy="382.4" r="8.5"/>
<circle cx="662.2" cy="399.5" r="8.5"/>
<circle cx="660.7" cy="377.0" r="8.5"/>
<circle cx="648.0" cy="411.3" r="8.5"/>
<circle cx="708.4" cy="372.3" r="8.5"/>
<circle cx="677.3" cy="413.2" r="8.5"/>
<circle cx="628.5" cy="417.8" r="8.5"/>
<circle cx="635.9" cy="404.2" r="8.5"/>
<circle cx="676.2" cy="405.7" r="8.5"/>
<circle cx="653.5" cy="393.9" r="8.5"/>
<circle cx="679.2" cy="394.3" r="8.5"/>
<circle cx="686.3" cy="395.5" r="8.5"/>
<circle cx="665.8" cy="371.3" r="8.5"/>
<circle cx="682.6" cy="397.9" r="8.5"/>
<circle cx="646.9" cy="413.5" r="8.5"/>
<circle cx="697.5" cy="396.1" r="8.5"/>
<circle cx="641.7" cy="397.0" r="8.5"/>
<circle cx="635.0" cy="377.3" r="8.5"/>
<circle cx="665.0" cy="375.2" r="8.5"/>
<circle cx="666.1" cy="399.1" r="8.5"/>
<circle cx="628.8" cy="406.3" r="8.5"/>
<circle cx="632.6" cy="411.8" r="8.5"/>
<circle cx="697.3" cy="399.2" r="8.5"/>
<circle cx="630.0" cy="398.7" r="8.5"/>
<circle cx="759.0" cy="398.0" r="8.5"/>
<circle cx="731.2" cy="392.9" r="8.5"/>
<circle cx="733.5" cy="420.3" r="8.5"/>
<circle cx="756.0" cy="416.6" r="8.5"/>
<circle cx="732.4" cy="405.8" r="8.5"/>
<circle cx="743.2" cy="379.1" r="8.5"/>
<circle cx="741.9" cy="386.3" r="8.5"/>
<circle cx="732.5" cy="380.7" r="8.5"/>
<circle cx="720.8" cy="390.9" r="8.5"/>
<circle cx="739.5" cy="423.0" r="8.5"/>
<circle cx="749.1" cy="408.4" r="8.5"/>
<circle cx="755.0" cy="410.9" r="8.5"/>
<circle cx="737.9" cy="395.9" r="8.5"/>
<circle cx="755.1" cy="391.8" r="8.5"/>
<circle cx="757.2" cy="376.4" r="8.5"/>
<circle cx="721.9" cy="407.5" r="8.5"/>
<circle cx="719.5" cy="396.7" r="8.5"/>
<circle cx="718.9" cy="374.9" r="8.5"/>
<circle cx="724.5" cy="424.1" r="8.5"/>
<circle cx="730.4" cy="399.3" r="8.5"/>
<circle cx="731.0" cy="422.7" r="8.5"/>
<circle cx="754.6" cy="420.8" r="8.5"/>
<circle cx="755.6" cy="410.6" r="8.5"/>
<circle cx="749.4" cy="384.0" r="8.5"/>
<circle cx="730.2" cy="405.0" r="8.5"/>
<circle cx="735.5" cy="391.4" r="8.5"/>
<circle cx="720.0" cy="397.9" r="8.5"/>
<circle cx="743.7" cy="374.9" r="8.5"/>
<circle cx="720.3" cy="402.0" r="8.5"/>
<circle cx="730.8" cy="399.7" r="8.5"/>
<circle cx="740.4" cy="394.0" r="8.5"/>
<circle cx="730.6" cy="379.5" r="8.5"/>
<circle cx="733.4" cy="415.6" r="8.5"/>
<circle cx="724.7" cy="373.2" r="8.5"/>
<circle cx="751.7" cy="409.3" r="8.5"/>
<circle cx="736.9" cy="375.8" r="8.5"/>
<circle cx="724.1" cy="407.1" r="8.5"/>
<circle cx="729.3" cy="414.7" r="8.5"/>
<circle cx="782.5" cy="404.4" r="8.5"/>
<circle cx="760.4" cy="399.0" r="8.5"/>
<circle cx="784.1" cy="380.0" r="8.5"/>
<circle cx="770.6" cy="387.9" r="8.5"/>
<circle cx="760.1" cy="413.9" r="8.5"/>
<circle cx="779.4" cy="393.3" r="8.5"/>
<circle cx="772.0" cy="414.8" r="8.5"/>
<circle cx="775.2" cy="404.7" r="8.5"/>
<circle cx="784.4" cy="384.2" r="8.5"/>
<circle cx="769.3" cy="389.7" r="8.5"/>
<circle cx="761.5" cy="415.6" r="8.5"/>
<circle cx="783.5" cy="408.0" r="8.5"/>
<circle cx="760.2" cy="413.7" r="8.5"/>
<circle cx="782.4" cy="397.0" r="8.5"/>
</g>
</g>
<rect x="90.85" y="17.2" width="886.25" height="468.7" fill="none" stroke="#333333" stroke-width="2.6"/>
<line x1="78.05" y1="104.4" x2="90.85" y2="104.4" stroke="#333333" stroke-width="4.4"/>
<text transform="translate(62.7,114.9) scale(1,1.035)" font-size="29.4" fill="#4D4D4D" text-anchor="end">FM</text>
<line x1="78.05" y1="251.4" x2="90.85" y2="251.4" stroke="#333333" stroke-width="4.4"/>
<text transform="translate(62.7,261.9) scale(1,1.035)" font-size="29.4" fill="#4D4D4D" text-anchor="end">PM</text>
<line x1="78.05" y1="398.5" x2="90.85" y2="398.5" stroke="#333333" stroke-width="4.4"/>
<text transform="translate(62.7,409.0) scale(1,1.035)" font-size="29.4" fill="#4D4D4D" text-anchor="end">NM</text>
<line x1="243.2" y1="485.9" x2="243.2" y2="499.09999999999997" stroke="#333333" stroke-width="4.7"/>
<text transform="translate(243.2,534.0) scale(1,1.035)" font-size="29.4" fill="#4D4D4D" text-anchor="middle">–40</text>
<line x1="422.0" y1="485.9" x2="422.0" y2="499.09999999999997" stroke="#333333" stroke-width="4.7"/>
<text transform="translate(422.0,534.0) scale(1,1.035)" font-size="29.4" fill="#4D4D4D" text-anchor="middle">–20</text>
<line x1="600.8" y1="485.9" x2="600.8" y2="499.09999999999997" stroke="#333333" stroke-width="4.7"/>
<text transform="translate(600.8,534.0) scale(1,1.035)" font-size="29.4" fill="#4D4D4D" text-anchor="middle">0</text>
<line x1="779.6" y1="485.9" x2="779.6" y2="499.09999999999997" stroke="#333333" stroke-width="4.7"/>
<text transform="translate(779.6,534.0) scale(1,1.035)" font-size="29.4" fill="#4D4D4D" text-anchor="middle">20</text>
<line x1="958.4" y1="485.9" x2="958.4" y2="499.09999999999997" stroke="#333333" stroke-width="4.7"/>
<text transform="translate(958.4,534.0) scale(1,1.035)" font-size="29.4" fill="#4D4D4D" text-anchor="middle">40</text>
<text transform="translate(533.575,577.6) scale(1,1.09)" font-size="28.3" font-weight="bold" fill="#000" text-anchor="middle">PC1</text>
<text transform="translate(-1.0,23.099999999999998) scale(0.96,1.06)" font-size="41.5" font-weight="bold" fill="#000">a</text>
<g filter="url(#cm)">
<rect x="90.85" y="645.5" width="886.25" height="469.0" fill="#fff"/>
<circle cx="397.0" cy="732.8" r="10.4" fill="#333333"/>
<circle cx="440.7" cy="732.8" r="10.4" fill="#333333"/>
<circle cx="444.8" cy="732.8" r="10.4" fill="#333333"/>
<circle cx="463.3" cy="732.8" r="10.4" fill="#333333"/>
<circle cx="465.7" cy="732.8" r="10.4" fill="#333333"/>
<circle cx="473.6" cy="732.8" r="10.4" fill="#333333"/>
<circle cx="507.4" cy="732.8" r="10.4" fill="#333333"/>
<circle cx="219.0" cy="880.3" r="10.4" fill="#333333"/>
<circle cx="263.6" cy="880.3" r="10.4" fill="#333333"/>
<circle cx="271.5" cy="880.3" r="10.4" fill="#333333"/>
<circle cx="339.7" cy="880.3" r="10.4" fill="#333333"/>
<circle cx="347.0" cy="880.3" r="10.4" fill="#333333"/>
<circle cx="353.9" cy="880.3" r="10.4" fill="#333333"/>
<circle cx="372.8" cy="880.3" r="10.4" fill="#333333"/>
<circle cx="381.4" cy="880.3" r="10.4" fill="#333333"/>
<circle cx="407.9" cy="880.3" r="10.4" fill="#333333"/>
<circle cx="922.4" cy="880.3" r="10.4" fill="#333333"/>
<circle cx="937.5" cy="880.3" r="10.4" fill="#333333"/>
<circle cx="128.5" cy="1027.7" r="10.4" fill="#333333"/>
<line x1="528.3" y1="732.5" x2="674.25" y2="732.5" stroke="#333333" stroke-width="4.4"/>
<line x1="778.45" y1="732.5" x2="865.9" y2="732.5" stroke="#333333" stroke-width="4.4"/>
<rect x="674.25" y="677.35" width="104.20000000000005" height="110.3" fill="#FFA500" stroke="#333333" stroke-width="4.5" stroke-linejoin="round"/>
<line x1="720.3" y1="677.35" x2="720.3" y2="787.65" stroke="#333333" stroke-width="8.8"/>
<line x1="409.0" y1="880.0" x2="595.65" y2="880.0" stroke="#333333" stroke-width="4.4"/>
<line x1="718.95" y1="880.0" x2="851.1" y2="880.0" stroke="#333333" stroke-width="4.4"/>
<rect x="595.65" y="824.85" width="123.30000000000007" height="110.3" fill="#FFA500" stroke="#333333" stroke-width="4.5" stroke-linejoin="round"/>
<line x1="663.2" y1="824.85" x2="663.2" y2="935.15" stroke="#333333" stroke-width="8.8"/>
<line x1="235.9" y1="1027.7" x2="516.65" y2="1027.7" stroke="#333333" stroke-width="4.4"/>
<line x1="721.95" y1="1027.7" x2="912.6" y2="1027.7" stroke="#333333" stroke-width="4.4"/>
<rect x="516.65" y="972.5500000000001" width="205.30000000000007" height="110.3" fill="#FFA500" stroke="#333333" stroke-width="4.5" stroke-linejoin="round"/>
<line x1="618.2" y1="972.5500000000001" x2="618.2" y2="1082.8500000000001" stroke="#333333" stroke-width="8.8"/>
<g fill="#000" fill-opacity="0.6">
<circle cx="397.0" cy="721.2" r="8.5"/>
<circle cx="473.6" cy="704.5" r="8.5"/>
<circle cx="440.7" cy="754.8" r="8.5"/>
<circle cx="444.8" cy="754.4" r="8.5"/>
<circle cx="466.4" cy="748.7" r="8.5"/>
<circle cx="466.9" cy="754.8" r="8.5"/>
<circle cx="507.4" cy="751.9" r="8.5"/>
<circle cx="527.5" cy="720.5" r="8.5"/>
<circle cx="541.3" cy="720.5" r="8.5"/>
<circle cx="532.0" cy="734.5" r="8.5"/>
<circle cx="543.0" cy="732.0" r="8.5"/>
<circle cx="563.9" cy="718.8" r="8.5"/>
<circle cx="561.4" cy="729.1" r="8.5"/>
<circle cx="563.9" cy="736.4" r="8.5"/>
<circle cx="583.5" cy="706.5" r="8.5"/>
<circle cx="592.1" cy="704.0" r="8.5"/>
<circle cx="593.3" cy="711.9" r="8.5"/>
<circle cx="589.6" cy="716.8" r="8.5"/>
<circle cx="592.1" cy="723.7" r="8.5"/>
<circle cx="587.2" cy="732.8" r="8.5"/>
<circle cx="584.7" cy="741.3" r="8.5"/>
<circle cx="600.7" cy="731.5" r="8.5"/>
<circle cx="600.7" cy="743.8" r="8.5"/>
<circle cx="593.8" cy="759.8" r="8.5"/>
<circle cx="609.3" cy="738.9" r="8.5"/>
<circle cx="609.3" cy="748.7" r="8.5"/>
<circle cx="619.4" cy="704.5" r="8.5"/>
<circle cx="633.7" cy="704.0" r="8.5"/>
<circle cx="624.4" cy="722.9" r="8.5"/>
<circle cx="635.4" cy="721.7" r="8.5"/>
<circle cx="639.1" cy="719.3" r="8.5"/>
<circle cx="646.4" cy="720.5" r="8.5"/>
<circle cx="635.4" cy="731.0" r="8.5"/>
<circle cx="628.0" cy="737.7" r="8.5"/>
<circle cx="624.4" cy="755.6" r="8.5"/>
<circle cx="632.9" cy="751.2" r="8.5"/>
<circle cx="631.7" cy="743.8" r="8.5"/>
<circle cx="656.3" cy="703.3" r="8.5"/>
<circle cx="661.2" cy="711.9" r="8.5"/>
<circle cx="652.6" cy="709.4" r="8.5"/>
<circle cx="664.8" cy="730.3" r="8.5"/>
<circle cx="658.2" cy="746.3" r="8.5"/>
<circle cx="668.5" cy="704.5" r="8.5"/>
<circle cx="671.0" cy="732.8" r="8.5"/>
<circle cx="674.7" cy="738.9" r="8.5"/>
<circle cx="866.6" cy="704.5" r="8.5"/>
<circle cx="853.6" cy="706.3" r="8.5"/>
<circle cx="857.0" cy="711.2" r="8.5"/>
<circle cx="860.3" cy="714.6" r="8.5"/>
<circle cx="842.9" cy="702.7" r="8.5"/>
<circle cx="840.2" cy="704.5" r="8.5"/>
<circle cx="821.3" cy="702.3" r="8.5"/>
<circle cx="818.0" cy="705.6" r="8.5"/>
<circle cx="801.2" cy="705.6" r="8.5"/>
<circle cx="782.3" cy="706.7" r="8.5"/>
<circle cx="789.0" cy="709.0" r="8.5"/>
<circle cx="833.6" cy="712.3" r="8.5"/>
<circle cx="826.9" cy="711.2" r="8.5"/>
<circle cx="813.5" cy="713.4" r="8.5"/>
<circle cx="800.1" cy="715.7" r="8.5"/>
<circle cx="807.9" cy="716.8" r="8.5"/>
<circle cx="786.7" cy="724.6" r="8.5"/>
<circle cx="834.7" cy="730.8" r="8.5"/>
<circle cx="824.6" cy="735.7" r="8.5"/>
<circle cx="816.8" cy="732.4" r="8.5"/>
<circle cx="802.4" cy="733.5" r="8.5"/>
<circle cx="793.4" cy="732.4" r="8.5"/>
<circle cx="812.4" cy="740.2" r="8.5"/>
<circle cx="807.9" cy="748.0" r="8.5"/>
<circle cx="787.9" cy="751.3" r="8.5"/>
<circle cx="803.5" cy="754.7" r="8.5"/>
<circle cx="811.3" cy="759.8" r="8.5"/>
<circle cx="825.8" cy="754.7" r="8.5"/>
<circle cx="853.0" cy="754.7" r="8.5"/>
<circle cx="853.0" cy="759.1" r="8.5"/>
<circle cx="773.4" cy="756.9" r="8.5"/>
<circle cx="780.1" cy="742.4" r="8.5"/>
<circle cx="797.9" cy="744.6" r="8.5"/>
<circle cx="782.3" cy="715.7" r="8.5"/>
<circle cx="219.0" cy="894.4" r="8.5"/>
<circle cx="271.0" cy="852.7" r="8.5"/>
<circle cx="264.4" cy="908.4" r="8.5"/>
<circle cx="339.7" cy="874.1" r="8.5"/>
<circle cx="349.5" cy="865.5" r="8.5"/>
<circle cx="354.9" cy="864.3" r="8.5"/>
<circle cx="344.1" cy="894.4" r="8.5"/>
<circle cx="352.0" cy="882.7" r="8.5"/>
<circle cx="372.1" cy="893.2" r="8.5"/>
<circle cx="381.9" cy="893.2" r="8.5"/>
<circle cx="413.3" cy="858.1" r="8.5"/>
<circle cx="421.9" cy="863.0" r="8.5"/>
<circle cx="413.3" cy="871.6" r="8.5"/>
<circle cx="407.2" cy="879.0" r="8.5"/>
<circle cx="417.0" cy="898.6" r="8.5"/>
<circle cx="425.6" cy="891.3" r="8.5"/>
<circle cx="420.7" cy="909.7" r="8.5"/>
<circle cx="427.0" cy="898.1" r="8.5"/>
<circle cx="444.7" cy="864.3" r="8.5"/>
<circle cx="443.7" cy="897.4" r="8.5"/>
<circle cx="461.3" cy="863.0" r="8.5"/>
<circle cx="474.8" cy="866.7" r="8.5"/>
<circle cx="465.0" cy="908.4" r="8.5"/>
<circle cx="469.9" cy="893.7" r="8.5"/>
<circle cx="472.4" cy="897.4" r="8.5"/>
<circle cx="473.6" cy="899.8" r="8.5"/>
<circle cx="481.0" cy="907.2" r="8.5"/>
<circle cx="489.6" cy="865.5" r="8.5"/>
<circle cx="496.2" cy="861.8" r="8.5"/>
<circle cx="498.2" cy="869.2" r="8.5"/>
<circle cx="485.9" cy="880.2" r="8.5"/>
<circle cx="484.7" cy="882.7" r="8.5"/>
<circle cx="489.6" cy="901.1" r="8.5"/>
<circle cx="497.7" cy="904.0" r="8.5"/>
<circle cx="508.0" cy="904.8" r="8.5"/>
<circle cx="506.7" cy="893.2" r="8.5"/>
<circle cx="511.7" cy="871.6" r="8.5"/>
<circle cx="512.4" cy="885.1" r="8.5"/>
<circle cx="512.9" cy="892.5" r="8.5"/>
<circle cx="525.2" cy="892.5" r="8.5"/>
<circle cx="531.3" cy="859.4" r="8.5"/>
<circle cx="539.9" cy="896.2" r="8.5"/>
<circle cx="544.8" cy="881.4" r="8.5"/>
<circle cx="552.1" cy="863.0" r="8.5"/>
<circle cx="555.1" cy="871.6" r="8.5"/>
<circle cx="552.1" cy="883.9" r="8.5"/>
<circle cx="553.4" cy="892.5" r="8.5"/>
<circle cx="563.2" cy="853.2" r="8.5"/>
<circle cx="564.9" cy="854.4" r="8.5"/>
<circle cx="568.8" cy="874.1" r="8.5"/>
<circle cx="564.4" cy="891.3" r="8.5"/>
<circle cx="576.7" cy="879.0" r="8.5"/>
<circle cx="575.5" cy="890.0" r="8.5"/>
<circle cx="575.5" cy="903.5" r="8.5"/>
<circle cx="581.6" cy="893.7" r="8.5"/>
<circle cx="581.6" cy="901.1" r="8.5"/>
<circle cx="587.7" cy="861.8" r="8.5"/>
<circle cx="589.0" cy="863.0" r="8.5"/>
<circle cx="587.7" cy="906.0" r="8.5"/>
<circle cx="593.9" cy="867.9" r="8.5"/>
<circle cx="595.1" cy="883.9" r="8.5"/>
<circle cx="591.4" cy="896.2" r="8.5"/>
<circle cx="593.9" cy="906.0" r="8.5"/>
<circle cx="922.4" cy="866.1" r="8.5"/>
<circle cx="937.5" cy="892.1" r="8.5"/>
<circle cx="847.0" cy="861.2" r="8.5"/>
<circle cx="847.8" cy="878.4" r="8.5"/>
<circle cx="851.1" cy="901.7" r="8.5"/>
<circle cx="778.5" cy="857.3" r="8.5"/>
<circle cx="814.1" cy="863.4" r="8.5"/>
<circle cx="803.2" cy="868.8" r="8.5"/>
<circle cx="822.4" cy="871.6" r="8.5"/>
<circle cx="825.1" cy="879.8" r="8.5"/>
<circle cx="833.3" cy="886.7" r="8.5"/>
<circle cx="830.6" cy="899.0" r="8.5"/>
<circle cx="818.2" cy="901.7" r="8.5"/>
<circle cx="801.8" cy="905.8" r="8.5"/>
<circle cx="792.2" cy="896.3" r="8.5"/>
<circle cx="786.7" cy="903.1" r="8.5"/>
<circle cx="773.0" cy="900.4" r="8.5"/>
<circle cx="766.2" cy="892.1" r="8.5"/>
<circle cx="784.0" cy="881.2" r="8.5"/>
<circle cx="770.3" cy="870.2" r="8.5"/>
<circle cx="786.7" cy="875.7" r="8.5"/>
<circle cx="753.8" cy="868.8" r="8.5"/>
<circle cx="737.4" cy="855.1" r="8.5"/>
<circle cx="733.3" cy="851.0" r="8.5"/>
<circle cx="726.4" cy="860.6" r="8.5"/>
<circle cx="753.8" cy="901.7" r="8.5"/>
<circle cx="745.6" cy="904.5" r="8.5"/>
<circle cx="733.3" cy="907.2" r="8.5"/>
<circle cx="726.4" cy="896.3" r="8.5"/>
<circle cx="742.9" cy="879.8" r="8.5"/>
<circle cx="805.9" cy="877.1" r="8.5"/>
<circle cx="811.4" cy="885.3" r="8.5"/>
<circle cx="815.5" cy="860.6" r="8.5"/>
<circle cx="128.5" cy="1035.0" r="8.5"/>
<circle cx="235.3" cy="1011.4" r="8.5"/>
<circle cx="296.3" cy="1041.2" r="8.5"/>
<circle cx="327.3" cy="1054.4" r="8.5"/>
<circle cx="347.2" cy="1052.8" r="8.5"/>
<circle cx="355.5" cy="1054.4" r="8.5"/>
<circle cx="377.9" cy="1007.7" r="8.5"/>
<circle cx="378.5" cy="1031.3" r="8.5"/>
<circle cx="384.7" cy="1047.3" r="8.5"/>
<circle cx="402.1" cy="1019.1" r="8.5"/>
<circle cx="405.4" cy="1033.8" r="8.5"/>
<circle cx="406.6" cy="1039.9" r="8.5"/>
<circle cx="415.2" cy="998.2" r="8.5"/>
<circle cx="429.9" cy="998.2" r="8.5"/>
<circle cx="429.9" cy="999.0" r="8.5"/>
<circle cx="421.3" cy="1010.5" r="8.5"/>
<circle cx="431.2" cy="1012.9" r="8.5"/>
<circle cx="415.2" cy="1017.9" r="8.5"/>
<circle cx="418.9" cy="1028.9" r="8.5"/>
<circle cx="428.7" cy="1028.9" r="8.5"/>
<circle cx="426.3" cy="1041.2" r="8.5"/>
<circle cx="422.6" cy="1052.2" r="8.5"/>
<circle cx="421.3" cy="1057.1" r="8.5"/>
<circle cx="444.7" cy="1027.7" r="8.5"/>
<circle cx="443.4" cy="1030.1" r="8.5"/>
<circle cx="448.3" cy="1016.6" r="8.5"/>
<circle cx="452.8" cy="1004.4" r="8.5"/>
<circle cx="456.9" cy="1032.6" r="8.5"/>
<circle cx="460.6" cy="1001.9" r="8.5"/>
<circle cx="463.1" cy="1009.3" r="8.5"/>
<circle cx="464.3" cy="1042.4" r="8.5"/>
<circle cx="468.0" cy="1015.4" r="8.5"/>
<circle cx="475.3" cy="1014.2" r="8.5"/>
<circle cx="480.2" cy="1010.5" r="8.5"/>
<circle cx="474.1" cy="1032.6" r="8.5"/>
<circle cx="479.0" cy="1037.5" r="8.5"/>
<circle cx="480.2" cy="1043.6" r="8.5"/>
<circle cx="479.0" cy="1054.7" r="8.5"/>
<circle cx="485.2" cy="1048.5" r="8.5"/>
<circle cx="487.6" cy="1052.2" r="8.5"/>
<circle cx="493.7" cy="1006.8" r="8.5"/>
<circle cx="493.7" cy="1015.4" r="8.5"/>
<circle cx="493.7" cy="1022.8" r="8.5"/>
<circle cx="490.1" cy="1035.0" r="8.5"/>
<circle cx="492.5" cy="1048.5" r="8.5"/>
<circle cx="498.7" cy="1028.9" r="8.5"/>
<circle cx="499.9" cy="1041.2" r="8.5"/>
<circle cx="509.7" cy="1019.1" r="8.5"/>
<circle cx="512.1" cy="1026.4" r="8.5"/>
<circle cx="510.9" cy="1054.7" r="8.5"/>
<circle cx="517.1" cy="1046.1" r="8.5"/>
<circle cx="522.0" cy="1031.3" r="8.5"/>
<circle cx="523.2" cy="1042.4" r="8.5"/>
<circle cx="844.8" cy="1000.3" r="8.5"/>
<circle cx="867.2" cy="1004.3" r="8.5"/>
<circle cx="886.2" cy="1010.1" r="8.5"/>
<circle cx="882.8" cy="1017.0" r="8.5"/>
<circle cx="874.3" cy="1026.7" r="8.5"/>
<circle cx="906.8" cy="1030.1" r="8.5"/>
<circle cx="903.3" cy="1037.3" r="8.5"/>
<circle cx="906.0" cy="1043.9" r="8.5"/>
<circle cx="913.1" cy="1046.0" r="8.5"/>
<circle cx="876.2" cy="1043.9" r="8.5"/>
<circle cx="862.4" cy="1035.9" r="8.5"/>
<circle cx="857.2" cy="1042.5" r="8.5"/>
<circle cx="851.9" cy="1048.6" r="8.5"/>
<circle cx="865.1" cy="1051.2" r="8.5"/>
<circle cx="826.0" cy="1051.2" r="8.5"/>
<circle cx="831.3" cy="1011.7" r="8.5"/>
<circle cx="817.6" cy="1017.0" r="8.5"/>
<circle cx="820.2" cy="1021.4" r="8.5"/>
<circle cx="811.0" cy="1003.0" r="8.5"/>
<circle cx="809.7" cy="1003.8" r="8.5"/>
<circle cx="793.9" cy="998.5" r="8.5"/>
<circle cx="800.5" cy="1000.3" r="8.5"/>
<circle cx="774.9" cy="1003.8" r="8.5"/>
<circle cx="764.3" cy="1000.3" r="8.5"/>
<circle cx="753.0" cy="1003.0" r="8.5"/>
<circle cx="742.4" cy="1003.8" r="8.5"/>
<circle cx="730.6" cy="1003.0" r="8.5"/>
<circle cx="742.4" cy="1012.2" r="8.5"/>
<circle cx="762.2" cy="1009.0" r="8.5"/>
<circle cx="784.6" cy="1013.5" r="8.5"/>
<circle cx="791.2" cy="1017.5" r="8.5"/>
<circle cx="792.5" cy="1022.8" r="8.5"/>
<circle cx="772.2" cy="1021.4" r="8.5"/>
<circle cx="750.3" cy="1026.7" r="8.5"/>
<circle cx="760.9" cy="1029.4" r="8.5"/>
<circle cx="770.1" cy="1035.9" r="8.5"/>
<circle cx="730.6" cy="1032.0" r="8.5"/>
<circle cx="784.6" cy="1035.9" r="8.5"/>
<circle cx="791.2" cy="1041.2" r="8.5"/>
<circle cx="789.9" cy="1046.5" r="8.5"/>
<circle cx="783.3" cy="1045.2" r="8.5"/>
<circle cx="791.2" cy="1050.5" r="8.5"/>
<circle cx="799.1" cy="1046.5" r="8.5"/>
<circle cx="809.7" cy="1046.5" r="8.5"/>
<circle cx="809.7" cy="1033.3" r="8.5"/>
<circle cx="807.0" cy="1034.6" r="8.5"/>
<circle cx="817.6" cy="1030.7" r="8.5"/>
<circle cx="729.2" cy="1051.8" r="8.5"/>
<circle cx="742.4" cy="1050.5" r="8.5"/>
<circle cx="751.7" cy="1051.8" r="8.5"/>
<circle cx="758.2" cy="1054.4" r="8.5"/>
<circle cx="764.8" cy="1049.1" r="8.5"/>
<circle cx="754.3" cy="1042.5" r="8.5"/>
<circle cx="762.2" cy="1041.2" r="8.5"/>
<circle cx="720.0" cy="1012.2" r="8.5"/>
<circle cx="720.0" cy="1054.4" r="8.5"/>
<circle cx="682.3" cy="731.2" r="8.5"/>
<circle cx="685.1" cy="753.2" r="8.5"/>
<circle cx="710.0" cy="715.5" r="8.5"/>
<circle cx="705.2" cy="747.9" r="8.5"/>
<circle cx="677.5" cy="712.3" r="8.5"/>
<circle cx="700.9" cy="751.5" r="8.5"/>
<circle cx="718.5" cy="728.3" r="8.5"/>
<circle cx="687.5" cy="737.7" r="8.5"/>
<circle cx="674.1" cy="742.5" r="8.5"/>
<circle cx="701.2" cy="715.9" r="8.5"/>
<circle cx="700.5" cy="711.7" r="8.5"/>
<circle cx="686.8" cy="709.8" r="8.5"/>
<circle cx="716.0" cy="734.3" r="8.5"/>
<circle cx="692.7" cy="733.8" r="8.5"/>
<circle cx="707.3" cy="705.7" r="8.5"/>
<circle cx="701.4" cy="758.4" r="8.5"/>
<circle cx="701.9" cy="734.0" r="8.5"/>
<circle cx="716.7" cy="752.1" r="8.5"/>
<circle cx="683.8" cy="742.6" r="8.5"/>
<circle cx="718.7" cy="711.4" r="8.5"/>
<circle cx="675.8" cy="722.8" r="8.5"/>
<circle cx="715.7" cy="748.5" r="8.5"/>
<circle cx="718.9" cy="720.9" r="8.5"/>
<circle cx="689.7" cy="726.8" r="8.5"/>
<circle cx="676.3" cy="734.6" r="8.5"/>
<circle cx="683.5" cy="722.7" r="8.5"/>
<circle cx="715.9" cy="747.2" r="8.5"/>
<circle cx="678.0" cy="747.0" r="8.5"/>
<circle cx="703.1" cy="731.4" r="8.5"/>
<circle cx="680.1" cy="749.3" r="8.5"/>
<circle cx="703.7" cy="721.0" r="8.5"/>
<circle cx="689.5" cy="719.1" r="8.5"/>
<circle cx="690.1" cy="757.2" r="8.5"/>
<circle cx="676.2" cy="747.5" r="8.5"/>
<circle cx="715.9" cy="748.0" r="8.5"/>
<circle cx="701.7" cy="731.3" r="8.5"/>
<circle cx="687.2" cy="746.7" r="8.5"/>
<circle cx="710.3" cy="706.0" r="8.5"/>
<circle cx="697.9" cy="709.8" r="8.5"/>
<circle cx="695.6" cy="706.9" r="8.5"/>
<circle cx="700.0" cy="744.9" r="8.5"/>
<circle cx="712.1" cy="736.9" r="8.5"/>
<circle cx="687.2" cy="729.1" r="8.5"/>
<circle cx="698.1" cy="720.6" r="8.5"/>
<circle cx="708.5" cy="707.3" r="8.5"/>
<circle cx="690.0" cy="709.7" r="8.5"/>
<circle cx="706.0" cy="751.2" r="8.5"/>
<circle cx="718.5" cy="738.0" r="8.5"/>
<circle cx="718.0" cy="733.6" r="8.5"/>
<circle cx="700.6" cy="713.3" r="8.5"/>
<circle cx="711.5" cy="757.7" r="8.5"/>
<circle cx="684.7" cy="713.7" r="8.5"/>
<circle cx="758.1" cy="751.2" r="8.5"/>
<circle cx="754.7" cy="723.5" r="8.5"/>
<circle cx="774.2" cy="716.0" r="8.5"/>
<circle cx="745.0" cy="744.3" r="8.5"/>
<circle cx="728.4" cy="720.7" r="8.5"/>
<circle cx="735.0" cy="730.7" r="8.5"/>
<circle cx="734.1" cy="746.3" r="8.5"/>
<circle cx="741.8" cy="752.4" r="8.5"/>
<circle cx="732.9" cy="757.1" r="8.5"/>
<circle cx="726.7" cy="755.6" r="8.5"/>
<circle cx="751.6" cy="747.0" r="8.5"/>
<circle cx="737.7" cy="711.2" r="8.5"/>
<circle cx="727.0" cy="715.3" r="8.5"/>
<circle cx="765.7" cy="722.5" r="8.5"/>
<circle cx="733.0" cy="718.3" r="8.5"/>
<circle cx="777.6" cy="729.9" r="8.5"/>
<circle cx="767.9" cy="749.7" r="8.5"/>
<circle cx="740.9" cy="734.5" r="8.5"/>
<circle cx="770.2" cy="740.1" r="8.5"/>
<circle cx="740.8" cy="719.0" r="8.5"/>
<circle cx="742.2" cy="707.3" r="8.5"/>
<circle cx="769.4" cy="760.2" r="8.5"/>
<circle cx="722.7" cy="748.5" r="8.5"/>
<circle cx="753.5" cy="727.1" r="8.5"/>
<circle cx="766.9" cy="732.0" r="8.5"/>
<circle cx="770.5" cy="715.4" r="8.5"/>
<circle cx="751.9" cy="704.5" r="8.5"/>
<circle cx="722.5" cy="735.4" r="8.5"/>
<circle cx="758.7" cy="752.6" r="8.5"/>
<circle cx="769.5" cy="744.2" r="8.5"/>
<circle cx="754.1" cy="741.1" r="8.5"/>
<circle cx="769.1" cy="742.3" r="8.5"/>
<circle cx="757.8" cy="754.2" r="8.5"/>
<circle cx="757.2" cy="737.5" r="8.5"/>
<circle cx="733.3" cy="714.5" r="8.5"/>
<circle cx="727.2" cy="728.9" r="8.5"/>
<circle cx="735.1" cy="744.1" r="8.5"/>
<circle cx="771.9" cy="718.0" r="8.5"/>
<circle cx="743.2" cy="744.8" r="8.5"/>
<circle cx="729.1" cy="752.6" r="8.5"/>
<circle cx="748.0" cy="705.3" r="8.5"/>
<circle cx="769.8" cy="733.7" r="8.5"/>
<circle cx="758.3" cy="754.0" r="8.5"/>
<circle cx="771.9" cy="722.9" r="8.5"/>
<circle cx="720.6" cy="751.6" r="8.5"/>
<circle cx="772.7" cy="710.3" r="8.5"/>
<circle cx="734.6" cy="716.6" r="8.5"/>
<circle cx="761.5" cy="758.4" r="8.5"/>
<circle cx="731.6" cy="724.0" r="8.5"/>
<circle cx="769.1" cy="730.2" r="8.5"/>
<circle cx="731.9" cy="731.3" r="8.5"/>
<circle cx="720.9" cy="749.4" r="8.5"/>
<circle cx="741.5" cy="723.7" r="8.5"/>
<circle cx="763.0" cy="730.2" r="8.5"/>
<circle cx="777.4" cy="714.7" r="8.5"/>
<circle cx="749.8" cy="757.4" r="8.5"/>
<circle cx="762.3" cy="739.2" r="8.5"/>
<circle cx="757.0" cy="718.6" r="8.5"/>
<circle cx="795.9" cy="754.5" r="8.5"/>
<circle cx="784.4" cy="734.1" r="8.5"/>
<circle cx="781.3" cy="724.9" r="8.5"/>
<circle cx="799.5" cy="719.3" r="8.5"/>
<circle cx="799.9" cy="732.2" r="8.5"/>
<circle cx="783.1" cy="708.8" r="8.5"/>
<circle cx="798.4" cy="710.3" r="8.5"/>
<circle cx="795.6" cy="716.7" r="8.5"/>
<circle cx="792.1" cy="744.2" r="8.5"/>
<circle cx="795.9" cy="714.3" r="8.5"/>
<circle cx="792.7" cy="749.9" r="8.5"/>
<circle cx="795.5" cy="728.2" r="8.5"/>
<circle cx="656.3" cy="862.0" r="8.5"/>
<circle cx="598.8" cy="886.1" r="8.5"/>
<circle cx="640.5" cy="878.9" r="8.5"/>
<circle cx="656.1" cy="903.6" r="8.5"/>
<circle cx="623.1" cy="853.8" r="8.5"/>
<circle cx="648.5" cy="875.9" r="8.5"/>
<circle cx="660.2" cy="896.3" r="8.5"/>
<circle cx="663.8" cy="852.7" r="8.5"/>
<circle cx="604.8" cy="904.5" r="8.5"/>
<circle cx="631.3" cy="883.1" r="8.5"/>
<circle cx="600.8" cy="863.3" r="8.5"/>
<circle cx="635.6" cy="907.3" r="8.5"/>
<circle cx="612.2" cy="852.9" r="8.5"/>
<circle cx="597.2" cy="893.8" r="8.5"/>
<circle cx="652.6" cy="884.8" r="8.5"/>
<circle cx="650.0" cy="894.4" r="8.5"/>
<circle cx="604.8" cy="877.5" r="8.5"/>
<circle cx="617.8" cy="862.9" r="8.5"/>
<circle cx="631.0" cy="868.3" r="8.5"/>
<circle cx="655.8" cy="873.8" r="8.5"/>
<circle cx="612.5" cy="894.5" r="8.5"/>
<circle cx="608.6" cy="884.7" r="8.5"/>
<circle cx="629.3" cy="880.3" r="8.5"/>
<circle cx="612.3" cy="863.0" r="8.5"/>
<circle cx="648.1" cy="867.4" r="8.5"/>
<circle cx="654.5" cy="880.7" r="8.5"/>
<circle cx="642.0" cy="899.3" r="8.5"/>
<circle cx="633.0" cy="900.2" r="8.5"/>
<circle cx="639.6" cy="868.5" r="8.5"/>
<circle cx="597.4" cy="853.8" r="8.5"/>
<circle cx="619.5" cy="881.5" r="8.5"/>
<circle cx="606.6" cy="905.6" r="8.5"/>
<circle cx="638.2" cy="887.7" r="8.5"/>
<circle cx="620.8" cy="898.5" r="8.5"/>
<circle cx="637.6" cy="855.0" r="8.5"/>
<circle cx="617.9" cy="899.8" r="8.5"/>
<circle cx="618.2" cy="874.2" r="8.5"/>
<circle cx="629.9" cy="893.0" r="8.5"/>
<circle cx="654.1" cy="860.1" r="8.5"/>
<circle cx="609.1" cy="872.7" r="8.5"/>
<circle cx="629.5" cy="858.5" r="8.5"/>
<circle cx="609.1" cy="892.5" r="8.5"/>
<circle cx="604.7" cy="907.2" r="8.5"/>
<circle cx="602.0" cy="908.6" r="8.5"/>
<circle cx="623.1" cy="883.4" r="8.5"/>
<circle cx="623.6" cy="884.5" r="8.5"/>
<circle cx="623.1" cy="858.0" r="8.5"/>
<circle cx="599.2" cy="898.7" r="8.5"/>
<circle cx="628.3" cy="895.5" r="8.5"/>
<circle cx="600.1" cy="880.3" r="8.5"/>
<circle cx="633.0" cy="873.2" r="8.5"/>
<circle cx="606.0" cy="890.2" r="8.5"/>
<circle cx="642.9" cy="901.8" r="8.5"/>
<circle cx="601.6" cy="854.1" r="8.5"/>
<circle cx="639.1" cy="887.4" r="8.5"/>
<circle cx="607.8" cy="889.6" r="8.5"/>
<circle cx="655.1" cy="875.8" r="8.5"/>
<circle cx="602.8" cy="904.8" r="8.5"/>
<circle cx="596.9" cy="901.5" r="8.5"/>
<circle cx="605.4" cy="869.4" r="8.5"/>
<circle cx="644.3" cy="901.0" r="8.5"/>
<circle cx="608.6" cy="853.8" r="8.5"/>
<circle cx="597.4" cy="884.1" r="8.5"/>
<circle cx="635.3" cy="903.9" r="8.5"/>
<circle cx="629.8" cy="881.6" r="8.5"/>
<circle cx="652.1" cy="895.9" r="8.5"/>
<circle cx="624.6" cy="891.5" r="8.5"/>
<circle cx="623.5" cy="855.6" r="8.5"/>
<circle cx="642.2" cy="885.7" r="8.5"/>
<circle cx="663.5" cy="889.4" r="8.5"/>
<circle cx="606.6" cy="895.7" r="8.5"/>
<circle cx="633.3" cy="856.5" r="8.5"/>
<circle cx="628.1" cy="902.9" r="8.5"/>
<circle cx="638.6" cy="876.1" r="8.5"/>
<circle cx="596.6" cy="890.0" r="8.5"/>
<circle cx="663.1" cy="900.7" r="8.5"/>
<circle cx="610.8" cy="858.7" r="8.5"/>
<circle cx="628.1" cy="867.5" r="8.5"/>
<circle cx="634.7" cy="877.5" r="8.5"/>
<circle cx="646.6" cy="904.4" r="8.5"/>
<circle cx="718.2" cy="865.6" r="8.5"/>
<circle cx="674.2" cy="859.0" r="8.5"/>
<circle cx="666.7" cy="892.5" r="8.5"/>
<circle cx="709.0" cy="886.5" r="8.5"/>
<circle cx="686.4" cy="867.0" r="8.5"/>
<circle cx="703.0" cy="887.2" r="8.5"/>
<circle cx="672.1" cy="872.2" r="8.5"/>
<circle cx="686.7" cy="904.9" r="8.5"/>
<circle cx="687.8" cy="873.1" r="8.5"/>
<circle cx="699.1" cy="855.4" r="8.5"/>
<circle cx="710.2" cy="892.0" r="8.5"/>
<circle cx="715.6" cy="905.8" r="8.5"/>
<circle cx="674.6" cy="863.8" r="8.5"/>
<circle cx="713.3" cy="879.5" r="8.5"/>
<circle cx="702.1" cy="878.2" r="8.5"/>
<circle cx="674.3" cy="900.6" r="8.5"/>
<circle cx="679.1" cy="899.2" r="8.5"/>
<circle cx="705.2" cy="861.1" r="8.5"/>
<circle cx="686.4" cy="885.5" r="8.5"/>
<circle cx="718.2" cy="885.0" r="8.5"/>
<circle cx="700.3" cy="866.4" r="8.5"/>
<circle cx="691.9" cy="893.4" r="8.5"/>
<circle cx="718.3" cy="896.7" r="8.5"/>
<circle cx="687.9" cy="854.7" r="8.5"/>
<circle cx="704.5" cy="874.6" r="8.5"/>
<circle cx="693.7" cy="870.1" r="8.5"/>
<circle cx="692.7" cy="880.4" r="8.5"/>
<circle cx="691.1" cy="875.9" r="8.5"/>
<circle cx="700.3" cy="893.2" r="8.5"/>
<circle cx="712.5" cy="855.6" r="8.5"/>
<circle cx="668.2" cy="863.8" r="8.5"/>
<circle cx="670.7" cy="854.8" r="8.5"/>
<circle cx="668.0" cy="872.7" r="8.5"/>
<circle cx="665.7" cy="881.2" r="8.5"/>
<circle cx="686.4" cy="892.6" r="8.5"/>
<circle cx="700.6" cy="902.7" r="8.5"/>
<circle cx="710.2" cy="869.4" r="8.5"/>
<circle cx="706.0" cy="908.1" r="8.5"/>
<circle cx="691.9" cy="860.0" r="8.5"/>
<circle cx="667.0" cy="903.7" r="8.5"/>
<circle cx="668.6" cy="869.8" r="8.5"/>
<circle cx="665.7" cy="867.8" r="8.5"/>
<circle cx="698.0" cy="857.2" r="8.5"/>
<circle cx="675.5" cy="901.4" r="8.5"/>
<circle cx="695.7" cy="885.2" r="8.5"/>
<circle cx="676.0" cy="904.6" r="8.5"/>
<circle cx="679.7" cy="857.3" r="8.5"/>
<circle cx="689.0" cy="885.6" r="8.5"/>
<circle cx="698.1" cy="859.3" r="8.5"/>
<circle cx="711.2" cy="871.1" r="8.5"/>
<circle cx="719.7" cy="873.4" r="8.5"/>
<circle cx="665.5" cy="853.8" r="8.5"/>
<circle cx="684.7" cy="892.0" r="8.5"/>
<circle cx="691.3" cy="900.0" r="8.5"/>
<circle cx="714.1" cy="901.0" r="8.5"/>
<circle cx="699.8" cy="904.4" r="8.5"/>
<circle cx="703.6" cy="856.9" r="8.5"/>
<circle cx="681.8" cy="865.1" r="8.5"/>
<circle cx="669.0" cy="904.3" r="8.5"/>
<circle cx="692.4" cy="862.2" r="8.5"/>
<circle cx="711.6" cy="872.9" r="8.5"/>
<circle cx="677.2" cy="892.9" r="8.5"/>
<circle cx="673.6" cy="905.5" r="8.5"/>
<circle cx="716.7" cy="855.2" r="8.5"/>
<circle cx="695.0" cy="853.4" r="8.5"/>
<circle cx="715.5" cy="866.5" r="8.5"/>
<circle cx="692.7" cy="894.0" r="8.5"/>
<circle cx="706.7" cy="879.4" r="8.5"/>
<circle cx="669.7" cy="869.9" r="8.5"/>
<circle cx="664.3" cy="863.1" r="8.5"/>
<circle cx="705.9" cy="885.4" r="8.5"/>
<circle cx="688.7" cy="889.0" r="8.5"/>
<circle cx="690.4" cy="873.0" r="8.5"/>
<circle cx="685.8" cy="873.2" r="8.5"/>
<circle cx="685.3" cy="877.0" r="8.5"/>
<circle cx="709.2" cy="903.9" r="8.5"/>
<circle cx="714.0" cy="878.5" r="8.5"/>
<circle cx="715.1" cy="897.3" r="8.5"/>
<circle cx="672.8" cy="899.3" r="8.5"/>
<circle cx="668.4" cy="887.1" r="8.5"/>
<circle cx="736.3" cy="855.2" r="8.5"/>
<circle cx="742.2" cy="854.1" r="8.5"/>
<circle cx="747.1" cy="874.3" r="8.5"/>
<circle cx="751.4" cy="878.6" r="8.5"/>
<circle cx="732.7" cy="872.4" r="8.5"/>
<circle cx="751.6" cy="857.0" r="8.5"/>
<circle cx="728.4" cy="898.3" r="8.5"/>
<circle cx="741.7" cy="886.9" r="8.5"/>
<circle cx="723.2" cy="865.5" r="8.5"/>
<circle cx="731.1" cy="893.5" r="8.5"/>
<circle cx="720.6" cy="878.9" r="8.5"/>
<circle cx="736.7" cy="896.7" r="8.5"/>
<circle cx="724.8" cy="884.2" r="8.5"/>
<circle cx="730.3" cy="864.2" r="8.5"/>
<circle cx="734.6" cy="906.8" r="8.5"/>
<circle cx="759.9" cy="903.3" r="8.5"/>
<circle cx="723.9" cy="868.9" r="8.5"/>
<circle cx="755.8" cy="856.4" r="8.5"/>
<circle cx="749.1" cy="869.2" r="8.5"/>
<circle cx="759.1" cy="854.2" r="8.5"/>
<circle cx="752.3" cy="871.7" r="8.5"/>
<circle cx="725.6" cy="853.4" r="8.5"/>
<circle cx="753.3" cy="881.7" r="8.5"/>
<circle cx="727.4" cy="876.8" r="8.5"/>
<circle cx="756.5" cy="865.1" r="8.5"/>
<circle cx="742.9" cy="860.8" r="8.5"/>
<circle cx="800.7" cy="883.8" r="8.5"/>
<circle cx="779.7" cy="874.9" r="8.5"/>
<circle cx="806.4" cy="868.5" r="8.5"/>
<circle cx="819.9" cy="893.9" r="8.5"/>
<circle cx="829.4" cy="878.7" r="8.5"/>
<circle cx="789.1" cy="886.1" r="8.5"/>
<circle cx="781.7" cy="891.1" r="8.5"/>
<circle cx="801.3" cy="890.7" r="8.5"/>
<circle cx="781.2" cy="894.1" r="8.5"/>
<circle cx="797.1" cy="895.3" r="8.5"/>
<circle cx="827.3" cy="882.0" r="8.5"/>
<circle cx="778.9" cy="897.9" r="8.5"/>
<circle cx="592.5" cy="1049.5" r="8.5"/>
<circle cx="556.2" cy="1027.1" r="8.5"/>
<circle cx="610.0" cy="1015.9" r="8.5"/>
<circle cx="536.4" cy="1045.4" r="8.5"/>
<circle cx="564.4" cy="999.5" r="8.5"/>
<circle cx="608.7" cy="1037.6" r="8.5"/>
<circle cx="547.7" cy="1027.9" r="8.5"/>
<circle cx="541.5" cy="1007.3" r="8.5"/>
<circle cx="582.1" cy="1023.4" r="8.5"/>
<circle cx="546.7" cy="1025.7" r="8.5"/>
<circle cx="542.7" cy="1028.2" r="8.5"/>
<circle cx="577.9" cy="1048.9" r="8.5"/>
<circle cx="612.8" cy="1003.1" r="8.5"/>
<circle cx="577.9" cy="1004.9" r="8.5"/>
<circle cx="598.7" cy="1021.8" r="8.5"/>
<circle cx="533.9" cy="1043.9" r="8.5"/>
<circle cx="530.9" cy="1038.2" r="8.5"/>
<circle cx="588.7" cy="1025.1" r="8.5"/>
<circle cx="565.7" cy="1033.1" r="8.5"/>
<circle cx="570.7" cy="1011.1" r="8.5"/>
<circle cx="592.4" cy="1004.7" r="8.5"/>
<circle cx="534.7" cy="1010.2" r="8.5"/>
<circle cx="569.8" cy="1045.3" r="8.5"/>
<circle cx="611.1" cy="1048.1" r="8.5"/>
<circle cx="607.5" cy="1010.6" r="8.5"/>
<circle cx="586.1" cy="1039.2" r="8.5"/>
<circle cx="544.1" cy="1014.1" r="8.5"/>
<circle cx="530.3" cy="1027.0" r="8.5"/>
<circle cx="607.0" cy="1045.4" r="8.5"/>
<circle cx="591.4" cy="1036.6" r="8.5"/>
<circle cx="570.1" cy="1035.2" r="8.5"/>
<circle cx="546.4" cy="1048.0" r="8.5"/>
<circle cx="561.2" cy="1042.1" r="8.5"/>
<circle cx="538.0" cy="1054.4" r="8.5"/>
<circle cx="597.2" cy="1052.5" r="8.5"/>
<circle cx="583.9" cy="1045.2" r="8.5"/>
<circle cx="607.2" cy="1049.5" r="8.5"/>
<circle cx="528.2" cy="1035.7" r="8.5"/>
<circle cx="549.7" cy="1037.8" r="8.5"/>
<circle cx="550.4" cy="1030.0" r="8.5"/>
<circle cx="611.0" cy="1034.5" r="8.5"/>
<circle cx="548.3" cy="1028.8" r="8.5"/>
<circle cx="565.3" cy="1053.3" r="8.5"/>
<circle cx="551.7" cy="1016.5" r="8.5"/>
<circle cx="585.2" cy="1006.0" r="8.5"/>
<circle cx="580.3" cy="1053.6" r="8.5"/>
<circle cx="572.8" cy="1014.4" r="8.5"/>
<circle cx="568.4" cy="1029.5" r="8.5"/>
<circle cx="538.8" cy="1006.2" r="8.5"/>
<circle cx="537.2" cy="1015.8" r="8.5"/>
<circle cx="562.8" cy="1015.5" r="8.5"/>
<circle cx="547.6" cy="1004.1" r="8.5"/>
<circle cx="575.8" cy="1047.0" r="8.5"/>
<circle cx="581.7" cy="1031.6" r="8.5"/>
<circle cx="585.5" cy="1010.6" r="8.5"/>
<circle cx="591.1" cy="1025.4" r="8.5"/>
<circle cx="576.0" cy="1034.0" r="8.5"/>
<circle cx="568.6" cy="1016.8" r="8.5"/>
<circle cx="547.5" cy="1011.7" r="8.5"/>
<circle cx="572.7" cy="1020.9" r="8.5"/>
<circle cx="579.5" cy="999.8" r="8.5"/>
<circle cx="557.8" cy="1048.2" r="8.5"/>
<circle cx="547.2" cy="1030.8" r="8.5"/>
<circle cx="570.7" cy="1015.3" r="8.5"/>
<circle cx="616.8" cy="1015.9" r="8.5"/>
<circle cx="596.8" cy="1008.1" r="8.5"/>
<circle cx="643.3" cy="1005.6" r="8.5"/>
<circle cx="636.3" cy="1053.6" r="8.5"/>
<circle cx="655.0" cy="1028.8" r="8.5"/>
<circle cx="661.5" cy="1027.1" r="8.5"/>
<circle cx="688.3" cy="1007.3" r="8.5"/>
<circle cx="660.4" cy="1003.6" r="8.5"/>
<circle cx="625.2" cy="1003.5" r="8.5"/>
<circle cx="622.1" cy="1019.5" r="8.5"/>
<circle cx="667.6" cy="1039.0" r="8.5"/>
<circle cx="623.7" cy="1024.0" r="8.5"/>
<circle cx="660.5" cy="1046.4" r="8.5"/>
<circle cx="689.8" cy="1017.1" r="8.5"/>
<circle cx="644.9" cy="1055.2" r="8.5"/>
<circle cx="699.4" cy="1020.1" r="8.5"/>
<circle cx="680.3" cy="1010.0" r="8.5"/>
<circle cx="697.9" cy="1026.8" r="8.5"/>
<circle cx="694.1" cy="1022.0" r="8.5"/>
<circle cx="631.5" cy="1039.7" r="8.5"/>
<circle cx="637.3" cy="1021.0" r="8.5"/>
<circle cx="692.3" cy="1050.8" r="8.5"/>
<circle cx="656.6" cy="1016.4" r="8.5"/>
<circle cx="650.4" cy="1006.9" r="8.5"/>
<circle cx="648.8" cy="1037.4" r="8.5"/>
<circle cx="715.8" cy="1048.7" r="8.5"/>
<circle cx="707.5" cy="1006.8" r="8.5"/>
<circle cx="676.3" cy="1011.6" r="8.5"/>
<circle cx="635.7" cy="1026.5" r="8.5"/>
<circle cx="663.9" cy="1017.0" r="8.5"/>
<circle cx="719.5" cy="1010.1" r="8.5"/>
<circle cx="701.5" cy="1049.7" r="8.5"/>
<circle cx="677.5" cy="1044.7" r="8.5"/>
<circle cx="712.5" cy="1027.9" r="8.5"/>
<circle cx="718.6" cy="1012.4" r="8.5"/>
<circle cx="673.6" cy="1055.9" r="8.5"/>
<circle cx="705.9" cy="1039.1" r="8.5"/>
<circle cx="619.4" cy="1043.5" r="8.5"/>
<circle cx="691.3" cy="1042.7" r="8.5"/>
<circle cx="682.2" cy="1032.0" r="8.5"/>
<circle cx="713.5" cy="1035.1" r="8.5"/>
<circle cx="647.9" cy="1028.3" r="8.5"/>
<circle cx="670.0" cy="1009.8" r="8.5"/>
<circle cx="636.8" cy="1035.0" r="8.5"/>
<circle cx="680.1" cy="1019.2" r="8.5"/>
<circle cx="720.4" cy="1035.4" r="8.5"/>
<circle cx="622.4" cy="1022.6" r="8.5"/>
<circle cx="699.1" cy="1016.6" r="8.5"/>
<circle cx="689.1" cy="999.3" r="8.5"/>
<circle cx="649.4" cy="1047.1" r="8.5"/>
<circle cx="678.4" cy="1037.2" r="8.5"/>
<circle cx="638.3" cy="1027.5" r="8.5"/>
<circle cx="675.0" cy="1014.3" r="8.5"/>
<circle cx="684.6" cy="1029.4" r="8.5"/>
<circle cx="720.7" cy="1031.8" r="8.5"/>
<circle cx="660.3" cy="1006.0" r="8.5"/>
<circle cx="634.1" cy="1042.4" r="8.5"/>
<circle cx="629.0" cy="1004.8" r="8.5"/>
<circle cx="635.6" cy="1028.9" r="8.5"/>
<circle cx="702.8" cy="1034.0" r="8.5"/>
<circle cx="701.1" cy="1002.6" r="8.5"/>
<circle cx="619.3" cy="1043.0" r="8.5"/>
<circle cx="651.3" cy="1039.9" r="8.5"/>
<circle cx="654.4" cy="1008.8" r="8.5"/>
<circle cx="645.5" cy="1004.8" r="8.5"/>
<circle cx="711.1" cy="1032.3" r="8.5"/>
<circle cx="653.9" cy="1024.7" r="8.5"/>
<circle cx="657.7" cy="1002.2" r="8.5"/>
<circle cx="709.7" cy="1032.3" r="8.5"/>
<circle cx="716.8" cy="1024.2" r="8.5"/>
<circle cx="681.9" cy="1013.3" r="8.5"/>
<circle cx="622.5" cy="1052.2" r="8.5"/>
<circle cx="706.0" cy="1017.0" r="8.5"/>
<circle cx="710.6" cy="1045.6" r="8.5"/>
<circle cx="649.3" cy="1033.4" r="8.5"/>
<circle cx="716.9" cy="1027.3" r="8.5"/>
<circle cx="715.8" cy="1012.9" r="8.5"/>
<circle cx="658.1" cy="1040.1" r="8.5"/>
<circle cx="640.8" cy="1016.7" r="8.5"/>
<circle cx="708.2" cy="1026.7" r="8.5"/>
</g>
</g>
<rect x="90.85" y="645.5" width="886.25" height="469.0" fill="none" stroke="#333333" stroke-width="2.6"/>
<line x1="78.05" y1="732.9" x2="90.85" y2="732.9" stroke="#333333" stroke-width="4.4"/>
<text transform="translate(62.7,743.4) scale(1,1.035)" font-size="29.4" fill="#4D4D4D" text-anchor="end">FM</text>
<line x1="78.05" y1="880.4" x2="90.85" y2="880.4" stroke="#333333" stroke-width="4.4"/>
<text transform="translate(62.7,890.9) scale(1,1.035)" font-size="29.4" fill="#4D4D4D" text-anchor="end">PM</text>
<line x1="78.05" y1="1027.6" x2="90.85" y2="1027.6" stroke="#333333" stroke-width="4.4"/>
<text transform="translate(62.7,1038.1) scale(1,1.035)" font-size="29.4" fill="#4D4D4D" text-anchor="end">NM</text>
<line x1="224.0" y1="1114.5" x2="224.0" y2="1127.7" stroke="#333333" stroke-width="4.7"/>
<text transform="translate(224.0,1162.7) scale(1,1.035)" font-size="29.4" fill="#4D4D4D" text-anchor="middle">–20</text>
<line x1="387.3" y1="1114.5" x2="387.3" y2="1127.7" stroke="#333333" stroke-width="4.7"/>
<text transform="translate(387.3,1162.7) scale(1,1.035)" font-size="29.4" fill="#4D4D4D" text-anchor="middle">–10</text>
<line x1="550.5" y1="1114.5" x2="550.5" y2="1127.7" stroke="#333333" stroke-width="4.7"/>
<text transform="translate(550.5,1162.7) scale(1,1.035)" font-size="29.4" fill="#4D4D4D" text-anchor="middle">0</text>
<line x1="713.8" y1="1114.5" x2="713.8" y2="1127.7" stroke="#333333" stroke-width="4.7"/>
<text transform="translate(713.8,1162.7) scale(1,1.035)" font-size="29.4" fill="#4D4D4D" text-anchor="middle">10</text>
<line x1="877.0" y1="1114.5" x2="877.0" y2="1127.7" stroke="#333333" stroke-width="4.7"/>
<text transform="translate(877.0,1162.7) scale(1,1.035)" font-size="29.4" fill="#4D4D4D" text-anchor="middle">20</text>
<text transform="translate(533.575,1206.8) scale(1,1.09)" font-size="28.3" font-weight="bold" fill="#000" text-anchor="middle">PC2</text>
<text transform="translate(-1.0,655.6) scale(1.0,1.0)" font-size="41.5" font-weight="bold" fill="#000">b</text>
</svg>
</body></html>
